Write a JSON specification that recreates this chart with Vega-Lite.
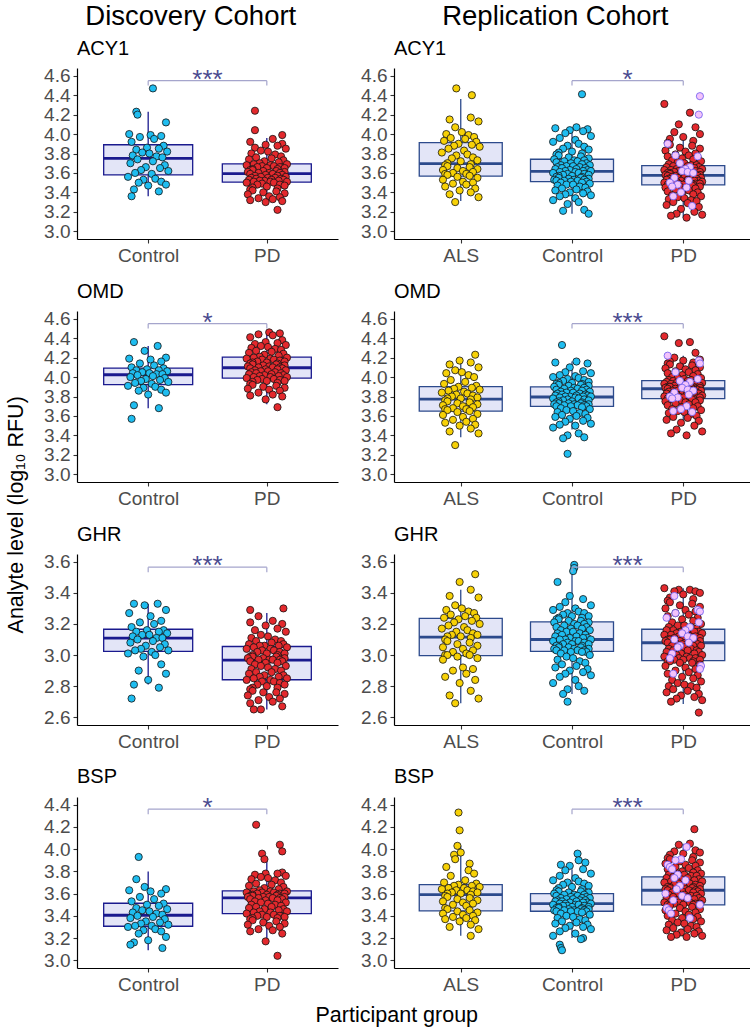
{
"$schema":"https://vega.github.io/schema/vega-lite/v6.json",
"padding":{"left":6,"top":3,"right":3,"bottom":2},
"config":{"font":"Liberation Sans","view":{"stroke":null},
"axis":{"grid":false,"domainColor":"#000000","domainWidth":1.2,"tickColor":"#333333","tickSize":4,"tickWidth":1.1,"labelColor":"#4d4d4d","labelFontSize":19,"labelFont":"Liberation Sans","labelPadding":3,"labelOverlap":false},
"axisX":{"labelAngle":0},
"axisY":{"tickCount":12},
"title":{"font":"Liberation Sans","fontWeight":"normal","color":"#000000"}},
"datasets":{
"box":[
{"k":"D","a":"ACY1","g":"Control","lo":3.36,"q1":3.58,"md":3.75,"q3":3.89,"hi":4.23},
{"k":"D","a":"ACY1","g":"PD","lo":3.29,"q1":3.505,"md":3.593,"q3":3.694,"hi":3.96},
{"k":"R","a":"ACY1","g":"ALS","lo":3.31,"q1":3.567,"md":3.696,"q3":3.911,"hi":4.36},
{"k":"R","a":"ACY1","g":"Control","lo":3.18,"q1":3.511,"md":3.616,"q3":3.741,"hi":4.05},
{"k":"R","a":"ACY1","g":"PD","lo":3.14,"q1":3.477,"md":3.574,"q3":3.675,"hi":3.956},
{"k":"D","a":"OMD","g":"Control","lo":3.68,"q1":3.922,"md":4.024,"q3":4.093,"hi":4.32},
{"k":"D","a":"OMD","g":"PD","lo":3.72,"q1":3.99,"md":4.096,"q3":4.206,"hi":4.46},
{"k":"R","a":"OMD","g":"ALS","lo":3.38,"q1":3.65,"md":3.774,"q3":3.901,"hi":4.15},
{"k":"R","a":"OMD","g":"Control","lo":3.46,"q1":3.698,"md":3.795,"q3":3.9,"hi":4.16},
{"k":"R","a":"OMD","g":"PD","lo":3.5,"q1":3.778,"md":3.88,"q3":3.963,"hi":4.22},
{"k":"D","a":"GHR","g":"Control","lo":2.81,"q1":3.023,"md":3.109,"q3":3.166,"hi":3.33},
{"k":"D","a":"GHR","g":"PD","lo":2.65,"q1":2.841,"md":2.967,"q3":3.055,"hi":3.27},
{"k":"R","a":"GHR","g":"ALS","lo":2.69,"q1":2.996,"md":3.115,"q3":3.236,"hi":3.42},
{"k":"R","a":"GHR","g":"Control","lo":2.75,"q1":3.024,"md":3.1,"q3":3.214,"hi":3.57},
{"k":"R","a":"GHR","g":"PD","lo":2.685,"q1":2.964,"md":3.079,"q3":3.166,"hi":3.43},
{"k":"D","a":"BSP","g":"Control","lo":3.09,"q1":3.306,"md":3.405,"q3":3.513,"hi":3.8},
{"k":"D","a":"BSP","g":"PD","lo":3.17,"q1":3.42,"md":3.561,"q3":3.624,"hi":3.91},
{"k":"R","a":"BSP","g":"ALS","lo":3.22,"q1":3.444,"md":3.591,"q3":3.681,"hi":4.03},
{"k":"R","a":"BSP","g":"Control","lo":3.2,"q1":3.441,"md":3.51,"q3":3.6,"hi":3.82},
{"k":"R","a":"BSP","g":"PD","lo":3.21,"q1":3.498,"md":3.63,"q3":3.75,"hi":4.05}],
"sig":[
{"k":"D","a":"ACY1","g1":"Control","g2":"PD","y":4.55,"y0":4.5,"lab":"***"},
{"k":"R","a":"ACY1","g1":"Control","g2":"PD","y":4.55,"y0":4.5,"lab":"*"},
{"k":"D","a":"OMD","g1":"Control","g2":"PD","y":4.55,"y0":4.5,"lab":"*"},
{"k":"R","a":"OMD","g1":"Control","g2":"PD","y":4.55,"y0":4.5,"lab":"***"},
{"k":"D","a":"GHR","g1":"Control","g2":"PD","y":3.565,"y0":3.533,"lab":"***"},
{"k":"R","a":"GHR","g1":"Control","g2":"PD","y":3.565,"y0":3.533,"lab":"***"},
{"k":"D","a":"BSP","g1":"Control","g2":"PD","y":4.36,"y0":4.315,"lab":"*"},
{"k":"R","a":"BSP","g1":"Control","g2":"PD","y":4.36,"y0":4.315,"lab":"***"}],
"D_ACY1":[
{"g":"Control","v":4.47,"j":4},{"g":"Control","v":4.23,"j":-10},{"g":"Control","v":4.20,"j":-9},{"g":"Control","v":4.12,"j":15},{"g":"Control","v":4.00,"j":-16},{"g":"Control","v":3.99,"j":2},{"g":"Control","v":3.98,"j":11},{"g":"Control","v":3.97,"j":-7},{"g":"Control","v":3.95,"j":5},{"g":"Control","v":3.92,"j":-14},
{"g":"Control","v":3.88,"j":13},{"g":"Control","v":3.86,"j":-1},{"g":"Control","v":3.85,"j":9},{"g":"Control","v":3.84,"j":-10},{"g":"Control","v":3.82,"j":16},{"g":"Control","v":3.81,"j":-5},{"g":"Control","v":3.80,"j":1},{"g":"Control","v":3.78,"j":-13},{"g":"Control","v":3.77,"j":7},{"g":"Control","v":3.76,"j":12},
{"g":"Control","v":3.74,"j":-9},{"g":"Control","v":3.72,"j":4},{"g":"Control","v":3.70,"j":-15},{"g":"Control","v":3.68,"j":14},{"g":"Control","v":3.66,"j":-2},{"g":"Control","v":3.65,"j":10},{"g":"Control","v":3.63,"j":-6},{"g":"Control","v":3.62,"j":17},{"g":"Control","v":3.60,"j":-11},{"g":"Control","v":3.59,"j":3},
{"g":"Control","v":3.56,"j":-17},{"g":"Control","v":3.54,"j":6},{"g":"Control","v":3.53,"j":-4},{"g":"Control","v":3.51,"j":11},{"g":"Control","v":3.50,"j":-8},{"g":"Control","v":3.48,"j":15},{"g":"Control","v":3.47,"j":0},{"g":"Control","v":3.43,"j":-12},{"g":"Control","v":3.41,"j":9},{"g":"Control","v":3.36,"j":-14},
{"g":"PD","v":4.24,"j":-10},{"g":"PD","v":4.04,"j":-10},{"g":"PD","v":3.99,"j":13},{"g":"PD","v":3.95,"j":5},{"g":"PD","v":3.92,"j":-14},{"g":"PD","v":3.90,"j":13},{"g":"PD","v":3.89,"j":-1},{"g":"PD","v":3.88,"j":9},{"g":"PD","v":3.86,"j":-10},{"g":"PD","v":3.85,"j":16},{"g":"PD","v":3.83,"j":-5},{"g":"PD","v":3.82,"j":1},{"g":"PD","v":3.80,"j":-13},{"g":"PD","v":3.79,"j":7},{"g":"PD","v":3.77,"j":12},{"g":"PD","v":3.76,"j":-9},{"g":"PD","v":3.75,"j":4},{"g":"PD","v":3.74,"j":-15},{"g":"PD","v":3.73,"j":14},{"g":"PD","v":3.72,"j":-2},{"g":"PD","v":3.71,"j":10},{"g":"PD","v":3.70,"j":-6},
{"g":"PD","v":3.69,"j":17},{"g":"PD","v":3.69,"j":-11},{"g":"PD","v":3.68,"j":3},{"g":"PD","v":3.68,"j":-17},{"g":"PD","v":3.67,"j":6},{"g":"PD","v":3.67,"j":-4},{"g":"PD","v":3.66,"j":11},{"g":"PD","v":3.66,"j":-8},{"g":"PD","v":3.65,"j":15},{"g":"PD","v":3.65,"j":0},{"g":"PD","v":3.64,"j":-12},{"g":"PD","v":3.64,"j":9},{"g":"PD","v":3.63,"j":-14},{"g":"PD","v":3.63,"j":-12},{"g":"PD","v":3.62,"j":8},{"g":"PD","v":3.62,"j":-3},{"g":"PD","v":3.61,"j":15},{"g":"PD","v":3.61,"j":-16},{"g":"PD","v":3.60,"j":2},{"g":"PD","v":3.60,"j":11},{"g":"PD","v":3.60,"j":-7},{"g":"PD","v":3.59,"j":5},
{"g":"PD","v":3.59,"j":-14},{"g":"PD","v":3.58,"j":13},{"g":"PD","v":3.58,"j":-1},{"g":"PD","v":3.57,"j":9},{"g":"PD","v":3.57,"j":-10},{"g":"PD","v":3.56,"j":16},{"g":"PD","v":3.56,"j":-5},{"g":"PD","v":3.55,"j":1},{"g":"PD","v":3.55,"j":-13},{"g":"PD","v":3.55,"j":7},{"g":"PD","v":3.54,"j":12},{"g":"PD","v":3.54,"j":-9},{"g":"PD","v":3.53,"j":4},{"g":"PD","v":3.53,"j":-15},{"g":"PD","v":3.53,"j":14},{"g":"PD","v":3.52,"j":-2},{"g":"PD","v":3.52,"j":10},{"g":"PD","v":3.52,"j":-6},{"g":"PD","v":3.51,"j":17},{"g":"PD","v":3.51,"j":-11},{"g":"PD","v":3.51,"j":3},{"g":"PD","v":3.50,"j":-17},
{"g":"PD","v":3.50,"j":6},{"g":"PD","v":3.49,"j":-4},{"g":"PD","v":3.48,"j":11},{"g":"PD","v":3.48,"j":-8},{"g":"PD","v":3.47,"j":15},{"g":"PD","v":3.46,"j":0},{"g":"PD","v":3.45,"j":-12},{"g":"PD","v":3.44,"j":9},{"g":"PD","v":3.43,"j":-14},{"g":"PD","v":3.42,"j":-12},{"g":"PD","v":3.41,"j":8},{"g":"PD","v":3.40,"j":-3},{"g":"PD","v":3.39,"j":15},{"g":"PD","v":3.38,"j":-16},{"g":"PD","v":3.36,"j":2},{"g":"PD","v":3.35,"j":11},{"g":"PD","v":3.34,"j":-7},{"g":"PD","v":3.33,"j":5},{"g":"PD","v":3.32,"j":-14},{"g":"PD","v":3.31,"j":13},{"g":"PD","v":3.30,"j":-1},{"g":"PD","v":3.22,"j":9}],
"R_ACY1":[
{"g":"ALS","v":4.47,"j":-4},{"g":"ALS","v":4.40,"j":10},{"g":"ALS","v":4.17,"j":9},{"g":"ALS","v":4.15,"j":-10},{"g":"ALS","v":4.13,"j":16},{"g":"ALS","v":4.07,"j":-5},{"g":"ALS","v":4.02,"j":1},{"g":"ALS","v":4.00,"j":-13},{"g":"ALS","v":3.99,"j":7},{"g":"ALS","v":3.97,"j":12},{"g":"ALS","v":3.96,"j":-9},{"g":"ALS","v":3.95,"j":4},{"g":"ALS","v":3.93,"j":-15},{"g":"ALS","v":3.92,"j":14},
{"g":"ALS","v":3.90,"j":-2},{"g":"ALS","v":3.89,"j":10},{"g":"ALS","v":3.88,"j":-6},{"g":"ALS","v":3.87,"j":17},{"g":"ALS","v":3.85,"j":-11},{"g":"ALS","v":3.83,"j":3},{"g":"ALS","v":3.81,"j":-17},{"g":"ALS","v":3.79,"j":6},{"g":"ALS","v":3.78,"j":-4},{"g":"ALS","v":3.76,"j":11},{"g":"ALS","v":3.75,"j":-8},{"g":"ALS","v":3.73,"j":15},{"g":"ALS","v":3.72,"j":0},{"g":"ALS","v":3.70,"j":-12},
{"g":"ALS","v":3.69,"j":9},{"g":"ALS","v":3.68,"j":-14},{"g":"ALS","v":3.67,"j":-12},{"g":"ALS","v":3.66,"j":8},{"g":"ALS","v":3.65,"j":-3},{"g":"ALS","v":3.64,"j":15},{"g":"ALS","v":3.63,"j":-16},{"g":"ALS","v":3.62,"j":2},{"g":"ALS","v":3.61,"j":11},{"g":"ALS","v":3.60,"j":-7},{"g":"ALS","v":3.59,"j":5},{"g":"ALS","v":3.59,"j":-14},{"g":"ALS","v":3.58,"j":-12},{"g":"ALS","v":3.57,"j":8},
{"g":"ALS","v":3.56,"j":-3},{"g":"ALS","v":3.55,"j":15},{"g":"ALS","v":3.53,"j":-16},{"g":"ALS","v":3.51,"j":2},{"g":"ALS","v":3.50,"j":11},{"g":"ALS","v":3.49,"j":-7},{"g":"ALS","v":3.48,"j":5},{"g":"ALS","v":3.46,"j":-14},{"g":"ALS","v":3.44,"j":13},{"g":"ALS","v":3.42,"j":-1},{"g":"ALS","v":3.40,"j":9},{"g":"ALS","v":3.38,"j":-10},{"g":"ALS","v":3.35,"j":16},{"g":"ALS","v":3.30,"j":-5},
{"g":"Control","v":4.41,"j":9},{"g":"Control","v":4.07,"j":4},{"g":"Control","v":4.06,"j":-15},{"g":"Control","v":4.05,"j":14},{"g":"Control","v":4.04,"j":-2},{"g":"Control","v":4.03,"j":10},{"g":"Control","v":4.01,"j":-6},{"g":"Control","v":3.98,"j":17},{"g":"Control","v":3.96,"j":-11},{"g":"Control","v":3.94,"j":3},{"g":"Control","v":3.92,"j":-17},{"g":"Control","v":3.90,"j":6},{"g":"Control","v":3.88,"j":-4},{"g":"Control","v":3.87,"j":11},{"g":"Control","v":3.85,"j":-8},{"g":"Control","v":3.84,"j":15},{"g":"Control","v":3.82,"j":0},{"g":"Control","v":3.81,"j":-12},{"g":"Control","v":3.80,"j":9},{"g":"Control","v":3.79,"j":-14},{"g":"Control","v":3.78,"j":-12},{"g":"Control","v":3.77,"j":8},{"g":"Control","v":3.76,"j":-3},{"g":"Control","v":3.75,"j":15},
{"g":"Control","v":3.74,"j":-16},{"g":"Control","v":3.73,"j":2},{"g":"Control","v":3.73,"j":11},{"g":"Control","v":3.72,"j":-7},{"g":"Control","v":3.72,"j":5},{"g":"Control","v":3.71,"j":-14},{"g":"Control","v":3.70,"j":13},{"g":"Control","v":3.70,"j":-1},{"g":"Control","v":3.69,"j":9},{"g":"Control","v":3.68,"j":-10},{"g":"Control","v":3.68,"j":16},{"g":"Control","v":3.67,"j":-5},{"g":"Control","v":3.67,"j":1},{"g":"Control","v":3.66,"j":-13},{"g":"Control","v":3.66,"j":7},{"g":"Control","v":3.65,"j":12},{"g":"Control","v":3.65,"j":-9},{"g":"Control","v":3.64,"j":4},{"g":"Control","v":3.64,"j":-15},{"g":"Control","v":3.63,"j":14},{"g":"Control","v":3.63,"j":-2},{"g":"Control","v":3.62,"j":10},{"g":"Control","v":3.62,"j":-6},{"g":"Control","v":3.62,"j":17},
{"g":"Control","v":3.61,"j":-11},{"g":"Control","v":3.61,"j":3},{"g":"Control","v":3.60,"j":-17},{"g":"Control","v":3.60,"j":6},{"g":"Control","v":3.59,"j":-4},{"g":"Control","v":3.59,"j":11},{"g":"Control","v":3.58,"j":-8},{"g":"Control","v":3.58,"j":15},{"g":"Control","v":3.57,"j":0},{"g":"Control","v":3.57,"j":-12},{"g":"Control","v":3.56,"j":9},{"g":"Control","v":3.56,"j":-14},{"g":"Control","v":3.55,"j":-12},{"g":"Control","v":3.55,"j":8},{"g":"Control","v":3.54,"j":-3},{"g":"Control","v":3.54,"j":15},{"g":"Control","v":3.53,"j":-16},{"g":"Control","v":3.53,"j":2},{"g":"Control","v":3.53,"j":11},{"g":"Control","v":3.52,"j":-7},{"g":"Control","v":3.52,"j":5},{"g":"Control","v":3.52,"j":-14},{"g":"Control","v":3.51,"j":13},{"g":"Control","v":3.51,"j":-1},
{"g":"Control","v":3.50,"j":9},{"g":"Control","v":3.50,"j":-10},{"g":"Control","v":3.49,"j":16},{"g":"Control","v":3.48,"j":-5},{"g":"Control","v":3.48,"j":1},{"g":"Control","v":3.47,"j":-13},{"g":"Control","v":3.46,"j":7},{"g":"Control","v":3.45,"j":12},{"g":"Control","v":3.44,"j":-9},{"g":"Control","v":3.43,"j":4},{"g":"Control","v":3.42,"j":-15},{"g":"Control","v":3.41,"j":14},{"g":"Control","v":3.40,"j":-2},{"g":"Control","v":3.39,"j":10},{"g":"Control","v":3.38,"j":-6},{"g":"Control","v":3.37,"j":17},{"g":"Control","v":3.36,"j":-11},{"g":"Control","v":3.34,"j":3},{"g":"Control","v":3.32,"j":-17},{"g":"Control","v":3.30,"j":6},{"g":"Control","v":3.28,"j":-4},{"g":"Control","v":3.22,"j":11},{"g":"Control","v":3.21,"j":-8},{"g":"Control","v":3.18,"j":15},
{"g":"PD","v":4.31,"j":-17},{"g":"PD","v":4.22,"j":6},{"g":"PD","v":4.10,"j":-4},{"g":"PD","v":4.07,"j":11},{"g":"PD","v":4.02,"j":-8},{"g":"PD","v":4.00,"j":15},{"g":"PD","v":3.97,"j":0},{"g":"PD","v":3.95,"j":-12},{"g":"PD","v":3.93,"j":9},{"g":"PD","v":3.91,"j":-14},{"g":"PD","v":3.89,"j":-12},{"g":"PD","v":3.88,"j":8},{"g":"PD","v":3.86,"j":-3},{"g":"PD","v":3.85,"j":15},{"g":"PD","v":3.83,"j":-16},{"g":"PD","v":3.82,"j":2},{"g":"PD","v":3.80,"j":11},{"g":"PD","v":3.79,"j":-7},{"g":"PD","v":3.78,"j":5},{"g":"PD","v":3.77,"j":-14},{"g":"PD","v":3.76,"j":13},{"g":"PD","v":3.75,"j":-1},{"g":"PD","v":3.74,"j":9},{"g":"PD","v":3.73,"j":-10},{"g":"PD","v":3.72,"j":16},{"g":"PD","v":3.71,"j":-5},{"g":"PD","v":3.70,"j":1},{"g":"PD","v":3.69,"j":-13},{"g":"PD","v":3.68,"j":7},{"g":"PD","v":3.68,"j":12},
{"g":"PD","v":3.67,"j":-9},{"g":"PD","v":3.67,"j":4},{"g":"PD","v":3.66,"j":-15},{"g":"PD","v":3.66,"j":14},{"g":"PD","v":3.65,"j":-2},{"g":"PD","v":3.65,"j":10},{"g":"PD","v":3.64,"j":-6},{"g":"PD","v":3.64,"j":17},{"g":"PD","v":3.63,"j":-11},{"g":"PD","v":3.63,"j":3},{"g":"PD","v":3.63,"j":-17},{"g":"PD","v":3.62,"j":6},{"g":"PD","v":3.62,"j":-4},{"g":"PD","v":3.62,"j":11},{"g":"PD","v":3.61,"j":-8},{"g":"PD","v":3.61,"j":15},{"g":"PD","v":3.61,"j":0},{"g":"PD","v":3.60,"j":-12},{"g":"PD","v":3.60,"j":9},{"g":"PD","v":3.60,"j":-14},{"g":"PD","v":3.59,"j":-12},{"g":"PD","v":3.59,"j":8},{"g":"PD","v":3.59,"j":-3},{"g":"PD","v":3.58,"j":15},{"g":"PD","v":3.58,"j":-16},{"g":"PD","v":3.58,"j":2},{"g":"PD","v":3.58,"j":11},{"g":"PD","v":3.57,"j":-7},{"g":"PD","v":3.57,"j":5},{"g":"PD","v":3.57,"j":-14},
{"g":"PD","v":3.57,"j":13},{"g":"PD","v":3.56,"j":-1},{"g":"PD","v":3.56,"j":9},{"g":"PD","v":3.56,"j":-10},{"g":"PD","v":3.55,"j":16},{"g":"PD","v":3.55,"j":-5},{"g":"PD","v":3.55,"j":1},{"g":"PD","v":3.54,"j":-13},{"g":"PD","v":3.54,"j":7},{"g":"PD","v":3.54,"j":12},{"g":"PD","v":3.53,"j":-9},{"g":"PD","v":3.53,"j":4},{"g":"PD","v":3.53,"j":-15},{"g":"PD","v":3.52,"j":14},{"g":"PD","v":3.52,"j":-2},{"g":"PD","v":3.52,"j":10},{"g":"PD","v":3.51,"j":-6},{"g":"PD","v":3.51,"j":17},{"g":"PD","v":3.51,"j":-11},{"g":"PD","v":3.50,"j":3},{"g":"PD","v":3.50,"j":-17},{"g":"PD","v":3.50,"j":6},{"g":"PD","v":3.49,"j":-4},{"g":"PD","v":3.49,"j":11},{"g":"PD","v":3.49,"j":-8},{"g":"PD","v":3.49,"j":15},{"g":"PD","v":3.48,"j":0},{"g":"PD","v":3.48,"j":-12},{"g":"PD","v":3.48,"j":9},{"g":"PD","v":3.48,"j":-14},
{"g":"PD","v":3.47,"j":-12},{"g":"PD","v":3.47,"j":8},{"g":"PD","v":3.46,"j":-3},{"g":"PD","v":3.46,"j":15},{"g":"PD","v":3.45,"j":-16},{"g":"PD","v":3.44,"j":2},{"g":"PD","v":3.44,"j":11},{"g":"PD","v":3.43,"j":-7},{"g":"PD","v":3.42,"j":5},{"g":"PD","v":3.41,"j":-14},{"g":"PD","v":3.40,"j":13},{"g":"PD","v":3.39,"j":-1},{"g":"PD","v":3.38,"j":9},{"g":"PD","v":3.37,"j":-10},{"g":"PD","v":3.36,"j":16},{"g":"PD","v":3.35,"j":-5},{"g":"PD","v":3.34,"j":1},{"g":"PD","v":3.33,"j":-13},{"g":"PD","v":3.32,"j":7},{"g":"PD","v":3.31,"j":12},{"g":"PD","v":3.30,"j":-9},{"g":"PD","v":3.29,"j":4},{"g":"PD","v":3.27,"j":-15},{"g":"PD","v":3.25,"j":14},{"g":"PD","v":3.23,"j":-2},{"g":"PD","v":3.20,"j":10},{"g":"PD","v":3.18,"j":-6},{"g":"PD","v":3.17,"j":17},{"g":"PD","v":3.16,"j":-11},{"g":"PD","v":3.14,"j":3},
{"g":"PD","v":4.39,"j":15,"s":1},{"g":"PD","v":4.20,"j":14,"s":1},{"g":"PD","v":3.90,"j":-14,"s":1},{"g":"PD","v":3.78,"j":-7,"s":1},{"g":"PD","v":3.77,"j":13,"s":1},{"g":"PD","v":3.70,"j":-3,"s":1},{"g":"PD","v":3.66,"j":6,"s":1},{"g":"PD","v":3.64,"j":2,"s":1},{"g":"PD","v":3.62,"j":-1,"s":1},{"g":"PD","v":3.61,"j":4,"s":1},{"g":"PD","v":3.60,"j":9,"s":1},{"g":"PD","v":3.55,"j":-8,"s":1},{"g":"PD","v":3.52,"j":5,"s":1},{"g":"PD","v":3.50,"j":-12,"s":1},{"g":"PD","v":3.48,"j":-5,"s":1},{"g":"PD","v":3.46,"j":-10,"s":1},{"g":"PD","v":3.45,"j":3,"s":1},{"g":"PD","v":3.40,"j":-2,"s":1},{"g":"PD","v":3.36,"j":-9,"s":1},{"g":"PD","v":3.26,"j":8,"s":1}],
"D_OMD":[
{"g":"Control","v":4.36,"j":-12},{"g":"Control","v":4.32,"j":8},{"g":"Control","v":4.27,"j":-3},{"g":"Control","v":4.20,"j":15},{"g":"Control","v":4.19,"j":-16},{"g":"Control","v":4.18,"j":2},{"g":"Control","v":4.16,"j":11},{"g":"Control","v":4.14,"j":-7},{"g":"Control","v":4.12,"j":5},{"g":"Control","v":4.10,"j":-14},
{"g":"Control","v":4.09,"j":13},{"g":"Control","v":4.08,"j":-1},{"g":"Control","v":4.07,"j":9},{"g":"Control","v":4.07,"j":-10},{"g":"Control","v":4.06,"j":16},{"g":"Control","v":4.05,"j":-5},{"g":"Control","v":4.04,"j":1},{"g":"Control","v":4.04,"j":-13},{"g":"Control","v":4.03,"j":7},{"g":"Control","v":4.03,"j":12},
{"g":"Control","v":4.02,"j":-9},{"g":"Control","v":4.01,"j":4},{"g":"Control","v":4.00,"j":-15},{"g":"Control","v":3.99,"j":14},{"g":"Control","v":3.98,"j":-2},{"g":"Control","v":3.97,"j":10},{"g":"Control","v":3.96,"j":-6},{"g":"Control","v":3.95,"j":17},{"g":"Control","v":3.94,"j":-11},{"g":"Control","v":3.93,"j":3},
{"g":"Control","v":3.91,"j":-17},{"g":"Control","v":3.90,"j":6},{"g":"Control","v":3.89,"j":-4},{"g":"Control","v":3.87,"j":11},{"g":"Control","v":3.86,"j":-8},{"g":"Control","v":3.84,"j":15},{"g":"Control","v":3.82,"j":0},{"g":"Control","v":3.71,"j":-12},{"g":"Control","v":3.68,"j":9},{"g":"Control","v":3.57,"j":-14},
{"g":"PD","v":4.46,"j":2},{"g":"PD","v":4.45,"j":11},{"g":"PD","v":4.44,"j":-7},{"g":"PD","v":4.43,"j":5},{"g":"PD","v":4.41,"j":-14},{"g":"PD","v":4.38,"j":13},{"g":"PD","v":4.36,"j":-1},{"g":"PD","v":4.35,"j":9},{"g":"PD","v":4.34,"j":-10},{"g":"PD","v":4.33,"j":16},{"g":"PD","v":4.32,"j":-5},{"g":"PD","v":4.31,"j":1},{"g":"PD","v":4.30,"j":-13},{"g":"PD","v":4.29,"j":7},{"g":"PD","v":4.28,"j":12},{"g":"PD","v":4.27,"j":-9},{"g":"PD","v":4.26,"j":4},{"g":"PD","v":4.25,"j":-15},{"g":"PD","v":4.24,"j":14},{"g":"PD","v":4.23,"j":-2},{"g":"PD","v":4.22,"j":10},{"g":"PD","v":4.21,"j":-6},
{"g":"PD","v":4.20,"j":17},{"g":"PD","v":4.20,"j":-11},{"g":"PD","v":4.19,"j":3},{"g":"PD","v":4.19,"j":-17},{"g":"PD","v":4.18,"j":6},{"g":"PD","v":4.18,"j":-4},{"g":"PD","v":4.17,"j":11},{"g":"PD","v":4.16,"j":-8},{"g":"PD","v":4.16,"j":15},{"g":"PD","v":4.15,"j":0},{"g":"PD","v":4.15,"j":-12},{"g":"PD","v":4.14,"j":9},{"g":"PD","v":4.14,"j":-14},{"g":"PD","v":4.13,"j":-12},{"g":"PD","v":4.13,"j":8},{"g":"PD","v":4.12,"j":-3},{"g":"PD","v":4.12,"j":15},{"g":"PD","v":4.11,"j":-16},{"g":"PD","v":4.11,"j":2},{"g":"PD","v":4.10,"j":11},{"g":"PD","v":4.10,"j":-7},{"g":"PD","v":4.10,"j":5},
{"g":"PD","v":4.09,"j":-14},{"g":"PD","v":4.09,"j":13},{"g":"PD","v":4.08,"j":-1},{"g":"PD","v":4.08,"j":9},{"g":"PD","v":4.07,"j":-10},{"g":"PD","v":4.07,"j":16},{"g":"PD","v":4.06,"j":-5},{"g":"PD","v":4.06,"j":1},{"g":"PD","v":4.05,"j":-13},{"g":"PD","v":4.05,"j":7},{"g":"PD","v":4.04,"j":12},{"g":"PD","v":4.04,"j":-9},{"g":"PD","v":4.03,"j":4},{"g":"PD","v":4.03,"j":-15},{"g":"PD","v":4.02,"j":14},{"g":"PD","v":4.02,"j":-2},{"g":"PD","v":4.01,"j":10},{"g":"PD","v":4.01,"j":-6},{"g":"PD","v":4.00,"j":17},{"g":"PD","v":4.00,"j":-11},{"g":"PD","v":4.00,"j":3},{"g":"PD","v":3.99,"j":-17},
{"g":"PD","v":3.98,"j":6},{"g":"PD","v":3.98,"j":-4},{"g":"PD","v":3.97,"j":11},{"g":"PD","v":3.97,"j":-8},{"g":"PD","v":3.96,"j":15},{"g":"PD","v":3.96,"j":0},{"g":"PD","v":3.95,"j":-12},{"g":"PD","v":3.94,"j":9},{"g":"PD","v":3.93,"j":-14},{"g":"PD","v":3.92,"j":-12},{"g":"PD","v":3.91,"j":8},{"g":"PD","v":3.90,"j":-3},{"g":"PD","v":3.89,"j":15},{"g":"PD","v":3.88,"j":-16},{"g":"PD","v":3.87,"j":2},{"g":"PD","v":3.86,"j":11},{"g":"PD","v":3.84,"j":-7},{"g":"PD","v":3.82,"j":5},{"g":"PD","v":3.81,"j":-14},{"g":"PD","v":3.80,"j":13},{"g":"PD","v":3.77,"j":-1},{"g":"PD","v":3.69,"j":9}],
"R_OMD":[
{"g":"ALS","v":4.23,"j":13},{"g":"ALS","v":4.17,"j":-1},{"g":"ALS","v":4.15,"j":9},{"g":"ALS","v":4.13,"j":-10},{"g":"ALS","v":4.10,"j":16},{"g":"ALS","v":4.07,"j":-5},{"g":"ALS","v":4.05,"j":1},{"g":"ALS","v":4.04,"j":-13},{"g":"ALS","v":4.02,"j":7},{"g":"ALS","v":4.00,"j":12},{"g":"ALS","v":3.97,"j":-9},{"g":"ALS","v":3.95,"j":4},{"g":"ALS","v":3.93,"j":-15},{"g":"ALS","v":3.91,"j":14},
{"g":"ALS","v":3.90,"j":-2},{"g":"ALS","v":3.89,"j":10},{"g":"ALS","v":3.88,"j":-6},{"g":"ALS","v":3.87,"j":17},{"g":"ALS","v":3.86,"j":-11},{"g":"ALS","v":3.85,"j":3},{"g":"ALS","v":3.84,"j":-17},{"g":"ALS","v":3.83,"j":6},{"g":"ALS","v":3.82,"j":-4},{"g":"ALS","v":3.81,"j":11},{"g":"ALS","v":3.80,"j":-8},{"g":"ALS","v":3.79,"j":15},{"g":"ALS","v":3.78,"j":0},{"g":"ALS","v":3.78,"j":-12},
{"g":"ALS","v":3.77,"j":9},{"g":"ALS","v":3.76,"j":-14},{"g":"ALS","v":3.75,"j":-12},{"g":"ALS","v":3.74,"j":8},{"g":"ALS","v":3.73,"j":-3},{"g":"ALS","v":3.72,"j":15},{"g":"ALS","v":3.71,"j":-16},{"g":"ALS","v":3.70,"j":2},{"g":"ALS","v":3.69,"j":11},{"g":"ALS","v":3.68,"j":-7},{"g":"ALS","v":3.67,"j":5},{"g":"ALS","v":3.67,"j":-14},{"g":"ALS","v":3.66,"j":-12},{"g":"ALS","v":3.65,"j":8},
{"g":"ALS","v":3.64,"j":-3},{"g":"ALS","v":3.62,"j":15},{"g":"ALS","v":3.61,"j":-16},{"g":"ALS","v":3.59,"j":2},{"g":"ALS","v":3.57,"j":11},{"g":"ALS","v":3.56,"j":-7},{"g":"ALS","v":3.54,"j":5},{"g":"ALS","v":3.53,"j":-14},{"g":"ALS","v":3.51,"j":13},{"g":"ALS","v":3.50,"j":-1},{"g":"ALS","v":3.47,"j":9},{"g":"ALS","v":3.44,"j":-10},{"g":"ALS","v":3.42,"j":16},{"g":"ALS","v":3.30,"j":-5},
{"g":"Control","v":4.33,"j":-9},{"g":"Control","v":4.16,"j":4},{"g":"Control","v":4.15,"j":-15},{"g":"Control","v":4.14,"j":14},{"g":"Control","v":4.10,"j":-2},{"g":"Control","v":4.06,"j":10},{"g":"Control","v":4.05,"j":-6},{"g":"Control","v":4.04,"j":17},{"g":"Control","v":4.02,"j":-11},{"g":"Control","v":4.01,"j":3},{"g":"Control","v":4.00,"j":-17},{"g":"Control","v":3.99,"j":6},{"g":"Control","v":3.98,"j":-4},{"g":"Control","v":3.97,"j":11},{"g":"Control","v":3.96,"j":-8},{"g":"Control","v":3.95,"j":15},{"g":"Control","v":3.94,"j":0},{"g":"Control","v":3.94,"j":-12},{"g":"Control","v":3.93,"j":9},{"g":"Control","v":3.93,"j":-14},{"g":"Control","v":3.92,"j":-12},{"g":"Control","v":3.92,"j":8},{"g":"Control","v":3.91,"j":-3},{"g":"Control","v":3.91,"j":15},
{"g":"Control","v":3.90,"j":-16},{"g":"Control","v":3.89,"j":2},{"g":"Control","v":3.89,"j":11},{"g":"Control","v":3.88,"j":-7},{"g":"Control","v":3.88,"j":5},{"g":"Control","v":3.87,"j":-14},{"g":"Control","v":3.87,"j":13},{"g":"Control","v":3.86,"j":-1},{"g":"Control","v":3.86,"j":9},{"g":"Control","v":3.85,"j":-10},{"g":"Control","v":3.85,"j":16},{"g":"Control","v":3.84,"j":-5},{"g":"Control","v":3.84,"j":1},{"g":"Control","v":3.83,"j":-13},{"g":"Control","v":3.83,"j":7},{"g":"Control","v":3.82,"j":12},{"g":"Control","v":3.82,"j":-9},{"g":"Control","v":3.81,"j":4},{"g":"Control","v":3.81,"j":-15},{"g":"Control","v":3.81,"j":14},{"g":"Control","v":3.80,"j":-2},{"g":"Control","v":3.80,"j":10},{"g":"Control","v":3.80,"j":-6},{"g":"Control","v":3.80,"j":17},
{"g":"Control","v":3.79,"j":-11},{"g":"Control","v":3.79,"j":3},{"g":"Control","v":3.78,"j":-17},{"g":"Control","v":3.78,"j":6},{"g":"Control","v":3.77,"j":-4},{"g":"Control","v":3.77,"j":11},{"g":"Control","v":3.76,"j":-8},{"g":"Control","v":3.76,"j":15},{"g":"Control","v":3.75,"j":0},{"g":"Control","v":3.75,"j":-12},{"g":"Control","v":3.74,"j":9},{"g":"Control","v":3.74,"j":-14},{"g":"Control","v":3.73,"j":-12},{"g":"Control","v":3.73,"j":8},{"g":"Control","v":3.73,"j":-3},{"g":"Control","v":3.72,"j":15},{"g":"Control","v":3.72,"j":-16},{"g":"Control","v":3.72,"j":2},{"g":"Control","v":3.71,"j":11},{"g":"Control","v":3.71,"j":-7},{"g":"Control","v":3.71,"j":5},{"g":"Control","v":3.70,"j":-14},{"g":"Control","v":3.70,"j":13},{"g":"Control","v":3.70,"j":-1},
{"g":"Control","v":3.69,"j":9},{"g":"Control","v":3.68,"j":-10},{"g":"Control","v":3.67,"j":16},{"g":"Control","v":3.66,"j":-5},{"g":"Control","v":3.65,"j":1},{"g":"Control","v":3.64,"j":-13},{"g":"Control","v":3.63,"j":7},{"g":"Control","v":3.62,"j":12},{"g":"Control","v":3.61,"j":-9},{"g":"Control","v":3.60,"j":4},{"g":"Control","v":3.59,"j":-15},{"g":"Control","v":3.58,"j":14},{"g":"Control","v":3.57,"j":-2},{"g":"Control","v":3.55,"j":10},{"g":"Control","v":3.54,"j":-6},{"g":"Control","v":3.52,"j":17},{"g":"Control","v":3.51,"j":-11},{"g":"Control","v":3.50,"j":3},{"g":"Control","v":3.48,"j":-17},{"g":"Control","v":3.42,"j":6},{"g":"Control","v":3.40,"j":-4},{"g":"Control","v":3.38,"j":11},{"g":"Control","v":3.37,"j":-8},{"g":"Control","v":3.21,"j":-4},
{"g":"PD","v":4.42,"j":-17},{"g":"PD","v":4.36,"j":6},{"g":"PD","v":4.35,"j":-4},{"g":"PD","v":4.25,"j":11},{"g":"PD","v":4.20,"j":-8},{"g":"PD","v":4.18,"j":15},{"g":"PD","v":4.17,"j":0},{"g":"PD","v":4.16,"j":-12},{"g":"PD","v":4.15,"j":9},{"g":"PD","v":4.14,"j":-14},{"g":"PD","v":4.13,"j":-12},{"g":"PD","v":4.12,"j":8},{"g":"PD","v":4.11,"j":-3},{"g":"PD","v":4.10,"j":15},{"g":"PD","v":4.09,"j":-16},{"g":"PD","v":4.08,"j":2},{"g":"PD","v":4.07,"j":11},{"g":"PD","v":4.06,"j":-7},{"g":"PD","v":4.05,"j":5},{"g":"PD","v":4.04,"j":-14},{"g":"PD","v":4.03,"j":13},{"g":"PD","v":4.02,"j":-1},{"g":"PD","v":4.01,"j":9},{"g":"PD","v":4.00,"j":-10},{"g":"PD","v":3.99,"j":16},{"g":"PD","v":3.99,"j":-5},{"g":"PD","v":3.98,"j":1},{"g":"PD","v":3.97,"j":-13},{"g":"PD","v":3.97,"j":7},{"g":"PD","v":3.96,"j":12},
{"g":"PD","v":3.96,"j":-9},{"g":"PD","v":3.96,"j":4},{"g":"PD","v":3.95,"j":-15},{"g":"PD","v":3.95,"j":14},{"g":"PD","v":3.95,"j":-2},{"g":"PD","v":3.94,"j":10},{"g":"PD","v":3.94,"j":-6},{"g":"PD","v":3.94,"j":17},{"g":"PD","v":3.93,"j":-11},{"g":"PD","v":3.93,"j":3},{"g":"PD","v":3.93,"j":-17},{"g":"PD","v":3.92,"j":6},{"g":"PD","v":3.92,"j":-4},{"g":"PD","v":3.92,"j":11},{"g":"PD","v":3.91,"j":-8},{"g":"PD","v":3.91,"j":15},{"g":"PD","v":3.91,"j":0},{"g":"PD","v":3.90,"j":-12},{"g":"PD","v":3.90,"j":9},{"g":"PD","v":3.90,"j":-14},{"g":"PD","v":3.90,"j":-12},{"g":"PD","v":3.89,"j":8},{"g":"PD","v":3.89,"j":-3},{"g":"PD","v":3.89,"j":15},{"g":"PD","v":3.89,"j":-16},{"g":"PD","v":3.88,"j":2},{"g":"PD","v":3.88,"j":11},{"g":"PD","v":3.88,"j":-7},{"g":"PD","v":3.88,"j":5},{"g":"PD","v":3.88,"j":-14},
{"g":"PD","v":3.87,"j":13},{"g":"PD","v":3.87,"j":-1},{"g":"PD","v":3.87,"j":9},{"g":"PD","v":3.86,"j":-10},{"g":"PD","v":3.86,"j":16},{"g":"PD","v":3.86,"j":-5},{"g":"PD","v":3.85,"j":1},{"g":"PD","v":3.85,"j":-13},{"g":"PD","v":3.85,"j":7},{"g":"PD","v":3.84,"j":12},{"g":"PD","v":3.84,"j":-9},{"g":"PD","v":3.83,"j":4},{"g":"PD","v":3.83,"j":-15},{"g":"PD","v":3.83,"j":14},{"g":"PD","v":3.82,"j":-2},{"g":"PD","v":3.82,"j":10},{"g":"PD","v":3.82,"j":-6},{"g":"PD","v":3.81,"j":17},{"g":"PD","v":3.81,"j":-11},{"g":"PD","v":3.81,"j":3},{"g":"PD","v":3.80,"j":-17},{"g":"PD","v":3.80,"j":6},{"g":"PD","v":3.80,"j":-4},{"g":"PD","v":3.79,"j":11},{"g":"PD","v":3.79,"j":-8},{"g":"PD","v":3.79,"j":15},{"g":"PD","v":3.79,"j":0},{"g":"PD","v":3.78,"j":-12},{"g":"PD","v":3.78,"j":9},{"g":"PD","v":3.78,"j":-14},
{"g":"PD","v":3.77,"j":-12},{"g":"PD","v":3.77,"j":8},{"g":"PD","v":3.76,"j":-3},{"g":"PD","v":3.76,"j":15},{"g":"PD","v":3.75,"j":-16},{"g":"PD","v":3.74,"j":2},{"g":"PD","v":3.74,"j":11},{"g":"PD","v":3.73,"j":-7},{"g":"PD","v":3.72,"j":5},{"g":"PD","v":3.71,"j":-14},{"g":"PD","v":3.70,"j":13},{"g":"PD","v":3.69,"j":-1},{"g":"PD","v":3.68,"j":9},{"g":"PD","v":3.67,"j":-10},{"g":"PD","v":3.66,"j":16},{"g":"PD","v":3.65,"j":-5},{"g":"PD","v":3.64,"j":1},{"g":"PD","v":3.63,"j":-13},{"g":"PD","v":3.62,"j":7},{"g":"PD","v":3.60,"j":12},{"g":"PD","v":3.59,"j":-9},{"g":"PD","v":3.58,"j":4},{"g":"PD","v":3.56,"j":-15},{"g":"PD","v":3.55,"j":14},{"g":"PD","v":3.53,"j":-2},{"g":"PD","v":3.50,"j":10},{"g":"PD","v":3.46,"j":-6},{"g":"PD","v":3.44,"j":17},{"g":"PD","v":3.42,"j":-11},{"g":"PD","v":3.40,"j":3},
{"g":"PD","v":4.22,"j":-14,"s":1},{"g":"PD","v":4.17,"j":14,"s":1},{"g":"PD","v":4.14,"j":15,"s":1},{"g":"PD","v":4.05,"j":-7,"s":1},{"g":"PD","v":3.98,"j":13,"s":1},{"g":"PD","v":3.96,"j":-3,"s":1},{"g":"PD","v":3.95,"j":6,"s":1},{"g":"PD","v":3.92,"j":2,"s":1},{"g":"PD","v":3.89,"j":-1,"s":1},{"g":"PD","v":3.87,"j":4,"s":1},{"g":"PD","v":3.86,"j":9,"s":1},{"g":"PD","v":3.84,"j":-8,"s":1},{"g":"PD","v":3.82,"j":5,"s":1},{"g":"PD","v":3.80,"j":-12,"s":1},{"g":"PD","v":3.79,"j":-5,"s":1},{"g":"PD","v":3.78,"j":-10,"s":1},{"g":"PD","v":3.70,"j":3,"s":1},{"g":"PD","v":3.67,"j":-2,"s":1},{"g":"PD","v":3.65,"j":-9,"s":1},{"g":"PD","v":3.64,"j":8,"s":1}],
"D_GHR":[
{"g":"Control","v":3.33,"j":-12},{"g":"Control","v":3.33,"j":8},{"g":"Control","v":3.32,"j":-3},{"g":"Control","v":3.29,"j":15},{"g":"Control","v":3.27,"j":-16},{"g":"Control","v":3.25,"j":2},{"g":"Control","v":3.22,"j":11},{"g":"Control","v":3.21,"j":-7},{"g":"Control","v":3.20,"j":5},{"g":"Control","v":3.18,"j":-14},
{"g":"Control","v":3.16,"j":13},{"g":"Control","v":3.16,"j":-1},{"g":"Control","v":3.15,"j":9},{"g":"Control","v":3.15,"j":-10},{"g":"Control","v":3.14,"j":16},{"g":"Control","v":3.13,"j":-5},{"g":"Control","v":3.13,"j":1},{"g":"Control","v":3.12,"j":-13},{"g":"Control","v":3.11,"j":7},{"g":"Control","v":3.11,"j":12},
{"g":"Control","v":3.10,"j":-9},{"g":"Control","v":3.09,"j":4},{"g":"Control","v":3.08,"j":-15},{"g":"Control","v":3.07,"j":14},{"g":"Control","v":3.06,"j":-2},{"g":"Control","v":3.05,"j":10},{"g":"Control","v":3.04,"j":-6},{"g":"Control","v":3.03,"j":17},{"g":"Control","v":3.03,"j":-11},{"g":"Control","v":3.02,"j":3},
{"g":"Control","v":3.01,"j":-17},{"g":"Control","v":3.00,"j":6},{"g":"Control","v":2.99,"j":-4},{"g":"Control","v":2.94,"j":11},{"g":"Control","v":2.90,"j":-8},{"g":"Control","v":2.88,"j":15},{"g":"Control","v":2.84,"j":0},{"g":"Control","v":2.81,"j":-12},{"g":"Control","v":2.79,"j":9},{"g":"Control","v":2.72,"j":-14},
{"g":"PD","v":3.30,"j":14},{"g":"PD","v":3.29,"j":-14},{"g":"PD","v":3.25,"j":-7},{"g":"PD","v":3.22,"j":5},{"g":"PD","v":3.21,"j":-14},{"g":"PD","v":3.20,"j":13},{"g":"PD","v":3.19,"j":-1},{"g":"PD","v":3.17,"j":9},{"g":"PD","v":3.16,"j":-10},{"g":"PD","v":3.15,"j":16},{"g":"PD","v":3.13,"j":-5},{"g":"PD","v":3.12,"j":1},{"g":"PD","v":3.11,"j":-13},{"g":"PD","v":3.10,"j":7},{"g":"PD","v":3.09,"j":12},{"g":"PD","v":3.09,"j":-9},{"g":"PD","v":3.08,"j":4},{"g":"PD","v":3.07,"j":-15},{"g":"PD","v":3.07,"j":14},{"g":"PD","v":3.06,"j":-2},{"g":"PD","v":3.06,"j":10},{"g":"PD","v":3.06,"j":-6},
{"g":"PD","v":3.05,"j":17},{"g":"PD","v":3.05,"j":-11},{"g":"PD","v":3.04,"j":3},{"g":"PD","v":3.04,"j":-17},{"g":"PD","v":3.03,"j":6},{"g":"PD","v":3.03,"j":-4},{"g":"PD","v":3.02,"j":11},{"g":"PD","v":3.02,"j":-8},{"g":"PD","v":3.01,"j":15},{"g":"PD","v":3.01,"j":0},{"g":"PD","v":3.00,"j":-12},{"g":"PD","v":3.00,"j":9},{"g":"PD","v":2.99,"j":-14},{"g":"PD","v":2.99,"j":-12},{"g":"PD","v":2.99,"j":8},{"g":"PD","v":2.98,"j":-3},{"g":"PD","v":2.98,"j":15},{"g":"PD","v":2.98,"j":-16},{"g":"PD","v":2.97,"j":2},{"g":"PD","v":2.97,"j":11},{"g":"PD","v":2.97,"j":-7},{"g":"PD","v":2.97,"j":5},
{"g":"PD","v":2.96,"j":-14},{"g":"PD","v":2.96,"j":13},{"g":"PD","v":2.95,"j":-1},{"g":"PD","v":2.95,"j":9},{"g":"PD","v":2.94,"j":-10},{"g":"PD","v":2.93,"j":16},{"g":"PD","v":2.93,"j":-5},{"g":"PD","v":2.92,"j":1},{"g":"PD","v":2.91,"j":-13},{"g":"PD","v":2.91,"j":7},{"g":"PD","v":2.90,"j":12},{"g":"PD","v":2.89,"j":-9},{"g":"PD","v":2.89,"j":4},{"g":"PD","v":2.88,"j":-15},{"g":"PD","v":2.87,"j":14},{"g":"PD","v":2.87,"j":-2},{"g":"PD","v":2.86,"j":10},{"g":"PD","v":2.86,"j":-6},{"g":"PD","v":2.85,"j":17},{"g":"PD","v":2.85,"j":-11},{"g":"PD","v":2.84,"j":3},{"g":"PD","v":2.84,"j":-17},
{"g":"PD","v":2.83,"j":6},{"g":"PD","v":2.83,"j":-4},{"g":"PD","v":2.82,"j":11},{"g":"PD","v":2.81,"j":-8},{"g":"PD","v":2.81,"j":15},{"g":"PD","v":2.80,"j":0},{"g":"PD","v":2.79,"j":-12},{"g":"PD","v":2.79,"j":9},{"g":"PD","v":2.78,"j":-14},{"g":"PD","v":2.77,"j":-12},{"g":"PD","v":2.76,"j":8},{"g":"PD","v":2.76,"j":-3},{"g":"PD","v":2.75,"j":15},{"g":"PD","v":2.74,"j":-16},{"g":"PD","v":2.73,"j":2},{"g":"PD","v":2.72,"j":11},{"g":"PD","v":2.71,"j":-7},{"g":"PD","v":2.70,"j":5},{"g":"PD","v":2.69,"j":-14},{"g":"PD","v":2.67,"j":13},{"g":"PD","v":2.65,"j":-11},{"g":"PD","v":2.65,"j":-5}],
"R_GHR":[
{"g":"ALS","v":3.52,"j":13},{"g":"ALS","v":3.47,"j":-1},{"g":"ALS","v":3.42,"j":9},{"g":"ALS","v":3.38,"j":-10},{"g":"ALS","v":3.37,"j":16},{"g":"ALS","v":3.32,"j":-5},{"g":"ALS","v":3.30,"j":1},{"g":"ALS","v":3.29,"j":-13},{"g":"ALS","v":3.28,"j":7},{"g":"ALS","v":3.27,"j":12},{"g":"ALS","v":3.26,"j":-9},{"g":"ALS","v":3.25,"j":4},{"g":"ALS","v":3.24,"j":-15},{"g":"ALS","v":3.24,"j":14},
{"g":"ALS","v":3.23,"j":-2},{"g":"ALS","v":3.22,"j":10},{"g":"ALS","v":3.21,"j":-6},{"g":"ALS","v":3.20,"j":17},{"g":"ALS","v":3.19,"j":-11},{"g":"ALS","v":3.18,"j":3},{"g":"ALS","v":3.17,"j":-17},{"g":"ALS","v":3.16,"j":6},{"g":"ALS","v":3.15,"j":-4},{"g":"ALS","v":3.14,"j":11},{"g":"ALS","v":3.13,"j":-8},{"g":"ALS","v":3.13,"j":15},{"g":"ALS","v":3.12,"j":0},{"g":"ALS","v":3.12,"j":-12},
{"g":"ALS","v":3.11,"j":9},{"g":"ALS","v":3.10,"j":-14},{"g":"ALS","v":3.09,"j":-12},{"g":"ALS","v":3.08,"j":8},{"g":"ALS","v":3.07,"j":-3},{"g":"ALS","v":3.06,"j":15},{"g":"ALS","v":3.05,"j":-16},{"g":"ALS","v":3.04,"j":2},{"g":"ALS","v":3.03,"j":11},{"g":"ALS","v":3.02,"j":-7},{"g":"ALS","v":3.01,"j":5},{"g":"ALS","v":3.00,"j":-14},{"g":"ALS","v":3.00,"j":-12},{"g":"ALS","v":3.00,"j":8},
{"g":"ALS","v":2.99,"j":-3},{"g":"ALS","v":2.98,"j":15},{"g":"ALS","v":2.97,"j":-16},{"g":"ALS","v":2.92,"j":2},{"g":"ALS","v":2.91,"j":11},{"g":"ALS","v":2.90,"j":-7},{"g":"ALS","v":2.88,"j":5},{"g":"ALS","v":2.86,"j":-14},{"g":"ALS","v":2.84,"j":13},{"g":"ALS","v":2.82,"j":-1},{"g":"ALS","v":2.77,"j":9},{"g":"ALS","v":2.74,"j":-10},{"g":"ALS","v":2.72,"j":16},{"g":"ALS","v":2.69,"j":-5},
{"g":"Control","v":3.58,"j":2},{"g":"Control","v":3.56,"j":2},{"g":"Control","v":3.54,"j":1},{"g":"Control","v":3.47,"j":-13},{"g":"Control","v":3.38,"j":-2},{"g":"Control","v":3.36,"j":10},{"g":"Control","v":3.34,"j":-6},{"g":"Control","v":3.32,"j":17},{"g":"Control","v":3.31,"j":-11},{"g":"Control","v":3.30,"j":3},{"g":"Control","v":3.29,"j":-17},{"g":"Control","v":3.28,"j":6},{"g":"Control","v":3.27,"j":-4},{"g":"Control","v":3.27,"j":11},{"g":"Control","v":3.26,"j":-8},{"g":"Control","v":3.25,"j":15},{"g":"Control","v":3.25,"j":0},{"g":"Control","v":3.24,"j":-12},{"g":"Control","v":3.24,"j":9},{"g":"Control","v":3.23,"j":-14},{"g":"Control","v":3.23,"j":-12},{"g":"Control","v":3.22,"j":8},{"g":"Control","v":3.22,"j":-3},{"g":"Control","v":3.21,"j":15},
{"g":"Control","v":3.21,"j":-16},{"g":"Control","v":3.20,"j":2},{"g":"Control","v":3.20,"j":11},{"g":"Control","v":3.19,"j":-7},{"g":"Control","v":3.19,"j":5},{"g":"Control","v":3.18,"j":-14},{"g":"Control","v":3.18,"j":13},{"g":"Control","v":3.17,"j":-1},{"g":"Control","v":3.17,"j":9},{"g":"Control","v":3.16,"j":-10},{"g":"Control","v":3.16,"j":16},{"g":"Control","v":3.15,"j":-5},{"g":"Control","v":3.15,"j":1},{"g":"Control","v":3.14,"j":-13},{"g":"Control","v":3.14,"j":7},{"g":"Control","v":3.13,"j":12},{"g":"Control","v":3.13,"j":-9},{"g":"Control","v":3.12,"j":4},{"g":"Control","v":3.12,"j":-15},{"g":"Control","v":3.11,"j":14},{"g":"Control","v":3.11,"j":-2},{"g":"Control","v":3.11,"j":10},{"g":"Control","v":3.10,"j":-6},{"g":"Control","v":3.10,"j":17},
{"g":"Control","v":3.10,"j":-11},{"g":"Control","v":3.09,"j":3},{"g":"Control","v":3.09,"j":-17},{"g":"Control","v":3.09,"j":6},{"g":"Control","v":3.08,"j":-4},{"g":"Control","v":3.08,"j":11},{"g":"Control","v":3.07,"j":-8},{"g":"Control","v":3.07,"j":15},{"g":"Control","v":3.07,"j":0},{"g":"Control","v":3.06,"j":-12},{"g":"Control","v":3.06,"j":9},{"g":"Control","v":3.06,"j":-14},{"g":"Control","v":3.05,"j":-12},{"g":"Control","v":3.05,"j":8},{"g":"Control","v":3.05,"j":-3},{"g":"Control","v":3.04,"j":15},{"g":"Control","v":3.04,"j":-16},{"g":"Control","v":3.04,"j":2},{"g":"Control","v":3.03,"j":11},{"g":"Control","v":3.03,"j":-7},{"g":"Control","v":3.03,"j":5},{"g":"Control","v":3.03,"j":-14},{"g":"Control","v":3.02,"j":13},{"g":"Control","v":3.02,"j":-1},
{"g":"Control","v":3.02,"j":9},{"g":"Control","v":3.01,"j":-10},{"g":"Control","v":3.00,"j":16},{"g":"Control","v":2.99,"j":-5},{"g":"Control","v":2.98,"j":1},{"g":"Control","v":2.97,"j":-13},{"g":"Control","v":2.96,"j":7},{"g":"Control","v":2.95,"j":12},{"g":"Control","v":2.94,"j":-9},{"g":"Control","v":2.93,"j":4},{"g":"Control","v":2.92,"j":-15},{"g":"Control","v":2.91,"j":14},{"g":"Control","v":2.90,"j":-2},{"g":"Control","v":2.89,"j":10},{"g":"Control","v":2.88,"j":-6},{"g":"Control","v":2.87,"j":17},{"g":"Control","v":2.86,"j":-11},{"g":"Control","v":2.84,"j":3},{"g":"Control","v":2.82,"j":-17},{"g":"Control","v":2.80,"j":6},{"g":"Control","v":2.78,"j":-4},{"g":"Control","v":2.77,"j":11},{"g":"Control","v":2.75,"j":-8},{"g":"Control","v":2.70,"j":-4},
{"g":"PD","v":3.43,"j":-17},{"g":"PD","v":3.42,"j":6},{"g":"PD","v":3.42,"j":-4},{"g":"PD","v":3.41,"j":11},{"g":"PD","v":3.41,"j":-8},{"g":"PD","v":3.40,"j":15},{"g":"PD","v":3.39,"j":0},{"g":"PD","v":3.37,"j":-12},{"g":"PD","v":3.36,"j":9},{"g":"PD","v":3.35,"j":-14},{"g":"PD","v":3.34,"j":-12},{"g":"PD","v":3.33,"j":8},{"g":"PD","v":3.32,"j":-3},{"g":"PD","v":3.31,"j":15},{"g":"PD","v":3.30,"j":-16},{"g":"PD","v":3.29,"j":2},{"g":"PD","v":3.28,"j":11},{"g":"PD","v":3.27,"j":-7},{"g":"PD","v":3.26,"j":5},{"g":"PD","v":3.25,"j":-14},{"g":"PD","v":3.24,"j":13},{"g":"PD","v":3.23,"j":-1},{"g":"PD","v":3.22,"j":9},{"g":"PD","v":3.21,"j":-10},{"g":"PD","v":3.20,"j":16},{"g":"PD","v":3.19,"j":-5},{"g":"PD","v":3.19,"j":1},{"g":"PD","v":3.18,"j":-13},{"g":"PD","v":3.18,"j":7},{"g":"PD","v":3.17,"j":12},
{"g":"PD","v":3.16,"j":-9},{"g":"PD","v":3.16,"j":4},{"g":"PD","v":3.16,"j":-15},{"g":"PD","v":3.15,"j":14},{"g":"PD","v":3.15,"j":-2},{"g":"PD","v":3.15,"j":10},{"g":"PD","v":3.14,"j":-6},{"g":"PD","v":3.14,"j":17},{"g":"PD","v":3.13,"j":-11},{"g":"PD","v":3.13,"j":3},{"g":"PD","v":3.13,"j":-17},{"g":"PD","v":3.12,"j":6},{"g":"PD","v":3.12,"j":-4},{"g":"PD","v":3.12,"j":11},{"g":"PD","v":3.11,"j":-8},{"g":"PD","v":3.11,"j":15},{"g":"PD","v":3.11,"j":0},{"g":"PD","v":3.10,"j":-12},{"g":"PD","v":3.10,"j":9},{"g":"PD","v":3.10,"j":-14},{"g":"PD","v":3.10,"j":-12},{"g":"PD","v":3.09,"j":8},{"g":"PD","v":3.09,"j":-3},{"g":"PD","v":3.09,"j":15},{"g":"PD","v":3.09,"j":-16},{"g":"PD","v":3.08,"j":2},{"g":"PD","v":3.08,"j":11},{"g":"PD","v":3.08,"j":-7},{"g":"PD","v":3.08,"j":5},{"g":"PD","v":3.08,"j":-14},
{"g":"PD","v":3.07,"j":13},{"g":"PD","v":3.07,"j":-1},{"g":"PD","v":3.06,"j":9},{"g":"PD","v":3.06,"j":-10},{"g":"PD","v":3.06,"j":16},{"g":"PD","v":3.05,"j":-5},{"g":"PD","v":3.05,"j":1},{"g":"PD","v":3.04,"j":-13},{"g":"PD","v":3.04,"j":7},{"g":"PD","v":3.03,"j":12},{"g":"PD","v":3.03,"j":-9},{"g":"PD","v":3.03,"j":4},{"g":"PD","v":3.02,"j":-15},{"g":"PD","v":3.02,"j":14},{"g":"PD","v":3.01,"j":-2},{"g":"PD","v":3.01,"j":10},{"g":"PD","v":3.00,"j":-6},{"g":"PD","v":3.00,"j":17},{"g":"PD","v":3.00,"j":-11},{"g":"PD","v":2.99,"j":3},{"g":"PD","v":2.99,"j":-17},{"g":"PD","v":2.98,"j":6},{"g":"PD","v":2.98,"j":-4},{"g":"PD","v":2.98,"j":11},{"g":"PD","v":2.97,"j":-8},{"g":"PD","v":2.97,"j":15},{"g":"PD","v":2.97,"j":0},{"g":"PD","v":2.97,"j":-12},{"g":"PD","v":2.96,"j":9},{"g":"PD","v":2.96,"j":-14},
{"g":"PD","v":2.96,"j":-12},{"g":"PD","v":2.95,"j":8},{"g":"PD","v":2.95,"j":-3},{"g":"PD","v":2.94,"j":15},{"g":"PD","v":2.93,"j":-16},{"g":"PD","v":2.92,"j":2},{"g":"PD","v":2.91,"j":11},{"g":"PD","v":2.90,"j":-7},{"g":"PD","v":2.89,"j":5},{"g":"PD","v":2.88,"j":-14},{"g":"PD","v":2.87,"j":13},{"g":"PD","v":2.86,"j":-1},{"g":"PD","v":2.85,"j":9},{"g":"PD","v":2.84,"j":-10},{"g":"PD","v":2.83,"j":16},{"g":"PD","v":2.82,"j":-5},{"g":"PD","v":2.81,"j":1},{"g":"PD","v":2.80,"j":-13},{"g":"PD","v":2.80,"j":7},{"g":"PD","v":2.79,"j":12},{"g":"PD","v":2.78,"j":-9},{"g":"PD","v":2.77,"j":4},{"g":"PD","v":2.76,"j":-15},{"g":"PD","v":2.75,"j":14},{"g":"PD","v":2.74,"j":-2},{"g":"PD","v":2.73,"j":10},{"g":"PD","v":2.72,"j":-6},{"g":"PD","v":2.71,"j":17},{"g":"PD","v":2.70,"j":-11},{"g":"PD","v":2.63,"j":14},
{"g":"PD","v":3.38,"j":-8,"s":1},{"g":"PD","v":3.29,"j":13,"s":1},{"g":"PD","v":3.28,"j":15,"s":1},{"g":"PD","v":3.27,"j":-7,"s":1},{"g":"PD","v":3.24,"j":-15,"s":1},{"g":"PD","v":3.21,"j":14,"s":1},{"g":"PD","v":3.18,"j":6,"s":1},{"g":"PD","v":3.16,"j":2,"s":1},{"g":"PD","v":3.14,"j":-1,"s":1},{"g":"PD","v":3.12,"j":4,"s":1},{"g":"PD","v":3.11,"j":9,"s":1},{"g":"PD","v":3.10,"j":-8,"s":1},{"g":"PD","v":3.08,"j":5,"s":1},{"g":"PD","v":3.06,"j":-3,"s":1},{"g":"PD","v":3.05,"j":-5,"s":1},{"g":"PD","v":3.01,"j":-10,"s":1},{"g":"PD","v":2.98,"j":-12,"s":1},{"g":"PD","v":2.93,"j":16,"s":1},{"g":"PD","v":2.91,"j":15,"s":1},{"g":"PD","v":2.88,"j":-9,"s":1}],
"D_BSP":[
{"g":"Control","v":3.93,"j":-8},{"g":"Control","v":3.73,"j":-10},{"g":"Control","v":3.66,"j":-3},{"g":"Control","v":3.64,"j":15},{"g":"Control","v":3.63,"j":-16},{"g":"Control","v":3.62,"j":2},{"g":"Control","v":3.60,"j":11},{"g":"Control","v":3.57,"j":-7},{"g":"Control","v":3.55,"j":5},{"g":"Control","v":3.53,"j":-14},
{"g":"Control","v":3.51,"j":13},{"g":"Control","v":3.50,"j":-1},{"g":"Control","v":3.49,"j":9},{"g":"Control","v":3.47,"j":-10},{"g":"Control","v":3.46,"j":16},{"g":"Control","v":3.45,"j":-5},{"g":"Control","v":3.44,"j":1},{"g":"Control","v":3.43,"j":-13},{"g":"Control","v":3.42,"j":7},{"g":"Control","v":3.41,"j":12},
{"g":"Control","v":3.40,"j":-9},{"g":"Control","v":3.39,"j":4},{"g":"Control","v":3.38,"j":-15},{"g":"Control","v":3.37,"j":14},{"g":"Control","v":3.35,"j":-2},{"g":"Control","v":3.34,"j":10},{"g":"Control","v":3.33,"j":-6},{"g":"Control","v":3.32,"j":17},{"g":"Control","v":3.31,"j":-11},{"g":"Control","v":3.31,"j":3},
{"g":"Control","v":3.30,"j":-17},{"g":"Control","v":3.28,"j":6},{"g":"Control","v":3.27,"j":-4},{"g":"Control","v":3.26,"j":11},{"g":"Control","v":3.24,"j":-8},{"g":"Control","v":3.21,"j":15},{"g":"Control","v":3.18,"j":0},{"g":"Control","v":3.16,"j":-12},{"g":"Control","v":3.14,"j":-15},{"g":"Control","v":3.11,"j":12},
{"g":"PD","v":4.22,"j":-9},{"g":"PD","v":4.04,"j":11},{"g":"PD","v":3.98,"j":13},{"g":"PD","v":3.96,"j":-4},{"g":"PD","v":3.91,"j":-2},{"g":"PD","v":3.79,"j":13},{"g":"PD","v":3.78,"j":-1},{"g":"PD","v":3.78,"j":9},{"g":"PD","v":3.77,"j":-10},{"g":"PD","v":3.76,"j":16},{"g":"PD","v":3.75,"j":-5},{"g":"PD","v":3.74,"j":1},{"g":"PD","v":3.73,"j":-13},{"g":"PD","v":3.72,"j":7},{"g":"PD","v":3.70,"j":12},{"g":"PD","v":3.69,"j":-9},{"g":"PD","v":3.68,"j":4},{"g":"PD","v":3.67,"j":-15},{"g":"PD","v":3.66,"j":14},{"g":"PD","v":3.65,"j":-2},{"g":"PD","v":3.64,"j":10},{"g":"PD","v":3.63,"j":-6},
{"g":"PD","v":3.62,"j":17},{"g":"PD","v":3.62,"j":-11},{"g":"PD","v":3.62,"j":3},{"g":"PD","v":3.61,"j":-17},{"g":"PD","v":3.61,"j":6},{"g":"PD","v":3.61,"j":-4},{"g":"PD","v":3.60,"j":11},{"g":"PD","v":3.60,"j":-8},{"g":"PD","v":3.60,"j":15},{"g":"PD","v":3.59,"j":0},{"g":"PD","v":3.59,"j":-12},{"g":"PD","v":3.59,"j":9},{"g":"PD","v":3.58,"j":-14},{"g":"PD","v":3.58,"j":-12},{"g":"PD","v":3.58,"j":8},{"g":"PD","v":3.57,"j":-3},{"g":"PD","v":3.57,"j":15},{"g":"PD","v":3.57,"j":-16},{"g":"PD","v":3.57,"j":2},{"g":"PD","v":3.56,"j":11},{"g":"PD","v":3.56,"j":-7},{"g":"PD","v":3.56,"j":5},
{"g":"PD","v":3.55,"j":-14},{"g":"PD","v":3.55,"j":13},{"g":"PD","v":3.54,"j":-1},{"g":"PD","v":3.54,"j":9},{"g":"PD","v":3.53,"j":-10},{"g":"PD","v":3.52,"j":16},{"g":"PD","v":3.52,"j":-5},{"g":"PD","v":3.51,"j":1},{"g":"PD","v":3.50,"j":-13},{"g":"PD","v":3.50,"j":7},{"g":"PD","v":3.49,"j":12},{"g":"PD","v":3.48,"j":-9},{"g":"PD","v":3.48,"j":4},{"g":"PD","v":3.47,"j":-15},{"g":"PD","v":3.46,"j":14},{"g":"PD","v":3.46,"j":-2},{"g":"PD","v":3.45,"j":10},{"g":"PD","v":3.44,"j":-6},{"g":"PD","v":3.44,"j":17},{"g":"PD","v":3.43,"j":-11},{"g":"PD","v":3.43,"j":3},{"g":"PD","v":3.42,"j":-17},
{"g":"PD","v":3.41,"j":6},{"g":"PD","v":3.41,"j":-4},{"g":"PD","v":3.40,"j":11},{"g":"PD","v":3.40,"j":-8},{"g":"PD","v":3.39,"j":15},{"g":"PD","v":3.39,"j":0},{"g":"PD","v":3.38,"j":-12},{"g":"PD","v":3.38,"j":9},{"g":"PD","v":3.37,"j":-14},{"g":"PD","v":3.36,"j":-12},{"g":"PD","v":3.35,"j":8},{"g":"PD","v":3.34,"j":-3},{"g":"PD","v":3.33,"j":15},{"g":"PD","v":3.32,"j":-16},{"g":"PD","v":3.31,"j":2},{"g":"PD","v":3.30,"j":11},{"g":"PD","v":3.28,"j":-7},{"g":"PD","v":3.27,"j":5},{"g":"PD","v":3.26,"j":-14},{"g":"PD","v":3.24,"j":13},{"g":"PD","v":3.17,"j":-1},{"g":"PD","v":3.04,"j":9}],
"R_BSP":[
{"g":"ALS","v":4.33,"j":-2},{"g":"ALS","v":4.17,"j":-1},{"g":"ALS","v":4.03,"j":-3},{"g":"ALS","v":3.97,"j":0},{"g":"ALS","v":3.95,"j":-6},{"g":"ALS","v":3.91,"j":-5},{"g":"ALS","v":3.87,"j":8},{"g":"ALS","v":3.84,"j":-13},{"g":"ALS","v":3.81,"j":7},{"g":"ALS","v":3.78,"j":12},{"g":"ALS","v":3.76,"j":-9},{"g":"ALS","v":3.72,"j":4},{"g":"ALS","v":3.70,"j":-15},{"g":"ALS","v":3.69,"j":14},
{"g":"ALS","v":3.68,"j":-2},{"g":"ALS","v":3.67,"j":10},{"g":"ALS","v":3.67,"j":-6},{"g":"ALS","v":3.66,"j":17},{"g":"ALS","v":3.65,"j":-11},{"g":"ALS","v":3.65,"j":3},{"g":"ALS","v":3.64,"j":-17},{"g":"ALS","v":3.63,"j":6},{"g":"ALS","v":3.63,"j":-4},{"g":"ALS","v":3.62,"j":11},{"g":"ALS","v":3.61,"j":-8},{"g":"ALS","v":3.61,"j":15},{"g":"ALS","v":3.60,"j":0},{"g":"ALS","v":3.60,"j":-12},
{"g":"ALS","v":3.59,"j":9},{"g":"ALS","v":3.58,"j":-14},{"g":"ALS","v":3.57,"j":-12},{"g":"ALS","v":3.56,"j":8},{"g":"ALS","v":3.55,"j":-3},{"g":"ALS","v":3.54,"j":15},{"g":"ALS","v":3.53,"j":-16},{"g":"ALS","v":3.52,"j":2},{"g":"ALS","v":3.51,"j":11},{"g":"ALS","v":3.50,"j":-7},{"g":"ALS","v":3.49,"j":5},{"g":"ALS","v":3.47,"j":-14},{"g":"ALS","v":3.46,"j":-12},{"g":"ALS","v":3.45,"j":8},
{"g":"ALS","v":3.44,"j":-3},{"g":"ALS","v":3.43,"j":15},{"g":"ALS","v":3.42,"j":-16},{"g":"ALS","v":3.41,"j":2},{"g":"ALS","v":3.40,"j":11},{"g":"ALS","v":3.39,"j":-7},{"g":"ALS","v":3.38,"j":5},{"g":"ALS","v":3.37,"j":-14},{"g":"ALS","v":3.36,"j":13},{"g":"ALS","v":3.35,"j":-1},{"g":"ALS","v":3.32,"j":9},{"g":"ALS","v":3.30,"j":-10},{"g":"ALS","v":3.28,"j":16},{"g":"ALS","v":3.22,"j":9},
{"g":"Control","v":3.96,"j":5},{"g":"Control","v":3.90,"j":6},{"g":"Control","v":3.88,"j":12},{"g":"Control","v":3.86,"j":-10},{"g":"Control","v":3.85,"j":-2},{"g":"Control","v":3.82,"j":10},{"g":"Control","v":3.81,"j":-6},{"g":"Control","v":3.78,"j":17},{"g":"Control","v":3.76,"j":-11},{"g":"Control","v":3.74,"j":3},{"g":"Control","v":3.72,"j":-17},{"g":"Control","v":3.71,"j":6},{"g":"Control","v":3.70,"j":-4},{"g":"Control","v":3.69,"j":11},{"g":"Control","v":3.68,"j":-8},{"g":"Control","v":3.67,"j":15},{"g":"Control","v":3.66,"j":0},{"g":"Control","v":3.65,"j":-12},{"g":"Control","v":3.64,"j":9},{"g":"Control","v":3.63,"j":-14},{"g":"Control","v":3.62,"j":-12},{"g":"Control","v":3.62,"j":8},{"g":"Control","v":3.61,"j":-3},{"g":"Control","v":3.61,"j":15},
{"g":"Control","v":3.60,"j":-16},{"g":"Control","v":3.59,"j":2},{"g":"Control","v":3.59,"j":11},{"g":"Control","v":3.59,"j":-7},{"g":"Control","v":3.58,"j":5},{"g":"Control","v":3.58,"j":-14},{"g":"Control","v":3.57,"j":13},{"g":"Control","v":3.57,"j":-1},{"g":"Control","v":3.56,"j":9},{"g":"Control","v":3.56,"j":-10},{"g":"Control","v":3.56,"j":16},{"g":"Control","v":3.55,"j":-5},{"g":"Control","v":3.55,"j":1},{"g":"Control","v":3.54,"j":-13},{"g":"Control","v":3.54,"j":7},{"g":"Control","v":3.54,"j":12},{"g":"Control","v":3.53,"j":-9},{"g":"Control","v":3.53,"j":4},{"g":"Control","v":3.53,"j":-15},{"g":"Control","v":3.52,"j":14},{"g":"Control","v":3.52,"j":-2},{"g":"Control","v":3.52,"j":10},{"g":"Control","v":3.51,"j":-6},{"g":"Control","v":3.51,"j":17},
{"g":"Control","v":3.51,"j":-11},{"g":"Control","v":3.50,"j":3},{"g":"Control","v":3.50,"j":-17},{"g":"Control","v":3.50,"j":6},{"g":"Control","v":3.49,"j":-4},{"g":"Control","v":3.49,"j":11},{"g":"Control","v":3.49,"j":-8},{"g":"Control","v":3.48,"j":15},{"g":"Control","v":3.48,"j":0},{"g":"Control","v":3.48,"j":-12},{"g":"Control","v":3.47,"j":9},{"g":"Control","v":3.47,"j":-14},{"g":"Control","v":3.47,"j":-12},{"g":"Control","v":3.46,"j":8},{"g":"Control","v":3.46,"j":-3},{"g":"Control","v":3.46,"j":15},{"g":"Control","v":3.45,"j":-16},{"g":"Control","v":3.45,"j":2},{"g":"Control","v":3.45,"j":11},{"g":"Control","v":3.45,"j":-7},{"g":"Control","v":3.44,"j":5},{"g":"Control","v":3.44,"j":-14},{"g":"Control","v":3.44,"j":13},{"g":"Control","v":3.44,"j":-1},
{"g":"Control","v":3.43,"j":9},{"g":"Control","v":3.42,"j":-10},{"g":"Control","v":3.41,"j":16},{"g":"Control","v":3.40,"j":-5},{"g":"Control","v":3.39,"j":1},{"g":"Control","v":3.38,"j":-13},{"g":"Control","v":3.37,"j":7},{"g":"Control","v":3.36,"j":12},{"g":"Control","v":3.35,"j":-9},{"g":"Control","v":3.34,"j":4},{"g":"Control","v":3.33,"j":-15},{"g":"Control","v":3.32,"j":14},{"g":"Control","v":3.31,"j":-2},{"g":"Control","v":3.30,"j":10},{"g":"Control","v":3.29,"j":-6},{"g":"Control","v":3.28,"j":17},{"g":"Control","v":3.26,"j":-11},{"g":"Control","v":3.24,"j":3},{"g":"Control","v":3.22,"j":-17},{"g":"Control","v":3.20,"j":10},{"g":"Control","v":3.19,"j":8},{"g":"Control","v":3.14,"j":-11},{"g":"Control","v":3.11,"j":-10},{"g":"Control","v":3.09,"j":-9},
{"g":"PD","v":4.18,"j":10},{"g":"PD","v":4.05,"j":6},{"g":"PD","v":4.04,"j":-4},{"g":"PD","v":3.99,"j":11},{"g":"PD","v":3.98,"j":-8},{"g":"PD","v":3.97,"j":15},{"g":"PD","v":3.96,"j":0},{"g":"PD","v":3.95,"j":-12},{"g":"PD","v":3.93,"j":9},{"g":"PD","v":3.92,"j":-14},{"g":"PD","v":3.91,"j":-12},{"g":"PD","v":3.90,"j":8},{"g":"PD","v":3.89,"j":-3},{"g":"PD","v":3.88,"j":15},{"g":"PD","v":3.87,"j":-16},{"g":"PD","v":3.86,"j":2},{"g":"PD","v":3.85,"j":11},{"g":"PD","v":3.84,"j":-7},{"g":"PD","v":3.83,"j":5},{"g":"PD","v":3.82,"j":-14},{"g":"PD","v":3.81,"j":13},{"g":"PD","v":3.80,"j":-1},{"g":"PD","v":3.79,"j":9},{"g":"PD","v":3.79,"j":-10},{"g":"PD","v":3.78,"j":16},{"g":"PD","v":3.78,"j":-5},{"g":"PD","v":3.77,"j":1},{"g":"PD","v":3.77,"j":-13},{"g":"PD","v":3.76,"j":7},{"g":"PD","v":3.76,"j":12},
{"g":"PD","v":3.75,"j":-9},{"g":"PD","v":3.74,"j":4},{"g":"PD","v":3.74,"j":-15},{"g":"PD","v":3.73,"j":14},{"g":"PD","v":3.73,"j":-2},{"g":"PD","v":3.72,"j":10},{"g":"PD","v":3.72,"j":-6},{"g":"PD","v":3.71,"j":17},{"g":"PD","v":3.71,"j":-11},{"g":"PD","v":3.70,"j":3},{"g":"PD","v":3.70,"j":-17},{"g":"PD","v":3.69,"j":6},{"g":"PD","v":3.69,"j":-4},{"g":"PD","v":3.68,"j":11},{"g":"PD","v":3.68,"j":-8},{"g":"PD","v":3.67,"j":15},{"g":"PD","v":3.67,"j":0},{"g":"PD","v":3.66,"j":-12},{"g":"PD","v":3.66,"j":9},{"g":"PD","v":3.66,"j":-14},{"g":"PD","v":3.65,"j":-12},{"g":"PD","v":3.65,"j":8},{"g":"PD","v":3.65,"j":-3},{"g":"PD","v":3.64,"j":15},{"g":"PD","v":3.64,"j":-16},{"g":"PD","v":3.64,"j":2},{"g":"PD","v":3.63,"j":11},{"g":"PD","v":3.63,"j":-7},{"g":"PD","v":3.63,"j":5},{"g":"PD","v":3.63,"j":-14},
{"g":"PD","v":3.62,"j":13},{"g":"PD","v":3.62,"j":-1},{"g":"PD","v":3.61,"j":9},{"g":"PD","v":3.61,"j":-10},{"g":"PD","v":3.60,"j":16},{"g":"PD","v":3.60,"j":-5},{"g":"PD","v":3.59,"j":1},{"g":"PD","v":3.59,"j":-13},{"g":"PD","v":3.58,"j":7},{"g":"PD","v":3.58,"j":12},{"g":"PD","v":3.57,"j":-9},{"g":"PD","v":3.57,"j":4},{"g":"PD","v":3.56,"j":-15},{"g":"PD","v":3.56,"j":14},{"g":"PD","v":3.55,"j":-2},{"g":"PD","v":3.55,"j":10},{"g":"PD","v":3.54,"j":-6},{"g":"PD","v":3.54,"j":17},{"g":"PD","v":3.53,"j":-11},{"g":"PD","v":3.53,"j":3},{"g":"PD","v":3.52,"j":-17},{"g":"PD","v":3.52,"j":6},{"g":"PD","v":3.52,"j":-4},{"g":"PD","v":3.51,"j":11},{"g":"PD","v":3.51,"j":-8},{"g":"PD","v":3.51,"j":15},{"g":"PD","v":3.50,"j":0},{"g":"PD","v":3.50,"j":-12},{"g":"PD","v":3.50,"j":9},{"g":"PD","v":3.50,"j":-14},
{"g":"PD","v":3.49,"j":-12},{"g":"PD","v":3.48,"j":8},{"g":"PD","v":3.47,"j":-3},{"g":"PD","v":3.46,"j":15},{"g":"PD","v":3.45,"j":-16},{"g":"PD","v":3.44,"j":2},{"g":"PD","v":3.43,"j":11},{"g":"PD","v":3.42,"j":-7},{"g":"PD","v":3.41,"j":5},{"g":"PD","v":3.40,"j":-14},{"g":"PD","v":3.39,"j":13},{"g":"PD","v":3.38,"j":-1},{"g":"PD","v":3.37,"j":9},{"g":"PD","v":3.36,"j":-10},{"g":"PD","v":3.35,"j":16},{"g":"PD","v":3.34,"j":-5},{"g":"PD","v":3.33,"j":1},{"g":"PD","v":3.32,"j":-13},{"g":"PD","v":3.31,"j":7},{"g":"PD","v":3.30,"j":12},{"g":"PD","v":3.29,"j":-9},{"g":"PD","v":3.28,"j":4},{"g":"PD","v":3.27,"j":-15},{"g":"PD","v":3.26,"j":14},{"g":"PD","v":3.25,"j":-2},{"g":"PD","v":3.24,"j":10},{"g":"PD","v":3.23,"j":-6},{"g":"PD","v":3.22,"j":17},{"g":"PD","v":3.21,"j":-11},{"g":"PD","v":3.21,"j":3},
{"g":"PD","v":4.02,"j":3,"s":1},{"g":"PD","v":3.91,"j":-2,"s":1},{"g":"PD","v":3.90,"j":-7,"s":1},{"g":"PD","v":3.86,"j":-14,"s":1},{"g":"PD","v":3.84,"j":-12,"s":1},{"g":"PD","v":3.82,"j":-10,"s":1},{"g":"PD","v":3.77,"j":-5,"s":1},{"g":"PD","v":3.74,"j":-8,"s":1},{"g":"PD","v":3.72,"j":2,"s":1},{"g":"PD","v":3.67,"j":-3,"s":1},{"g":"PD","v":3.64,"j":-6,"s":1},{"g":"PD","v":3.60,"j":-16,"s":1},{"g":"PD","v":3.58,"j":-1,"s":1},{"g":"PD","v":3.56,"j":4,"s":1},{"g":"PD","v":3.54,"j":-9,"s":1},{"g":"PD","v":3.50,"j":15,"s":1},{"g":"PD","v":3.47,"j":-15,"s":1},{"g":"PD","v":3.45,"j":-13,"s":1},{"g":"PD","v":3.42,"j":-11,"s":1},{"g":"PD","v":3.38,"j":6,"s":1}]
},
"title":{"text":"Analyte level (log₁₀ RFU)","orient":"left","anchor":"middle","fontSize":21.5,"offset":16},
"vconcat":[{
"title":{"text":"Participant group","orient":"bottom","anchor":"middle","fontSize":21.5,"offset":11},
"spacing":22,
"resolve":{"scale":{"x":"independent","y":"independent","xOffset":"independent"}},
"hconcat":[
{"title":{"text":"Discovery Cohort","fontSize":27.5,"anchor":"middle","offset":8},
"spacing":16,
"resolve":{"scale":{"x":"independent","y":"independent","xOffset":"independent"}},
"vconcat":[
{"title":{"text":"ACY1","anchor":"start","frame":"group","fontSize":20,"offset":8},"width":261,"height":171,"layer":[
{"data":{"name":"box"},"transform":[{"filter":"datum.k=='D'&&datum.a=='ACY1'"}],"mark":{"type":"rule","color":"#1a1a8e","strokeWidth":1.3},"encoding":{"x":{"field":"g","type":"nominal","title":null,"scale":{"type":"point","padding":0.6,"domain":["Control","PD"]}},"y":{"field":"lo","type":"quantitative","title":null,"scale":{"domain":[2.92,4.68],"nice":false,"zero":false},"axis":{"values":[3,3.2,3.4,3.6,3.8,4,4.2,4.4,4.6],"format":".1f","labelOverlap":false,"tickCount":12}},"y2":{"field":"hi"}}},
{"data":{"name":"box"},"transform":[{"filter":"datum.k=='D'&&datum.a=='ACY1'"}],"mark":{"type":"bar","width":89,"fill":"#e3e5f7","stroke":"#1a1a8e","strokeWidth":1.3},"encoding":{"x":{"field":"g","type":"nominal","title":null},"y":{"field":"q1","type":"quantitative","title":null},"y2":{"field":"q3"}}},
{"data":{"name":"box"},"transform":[{"filter":"datum.k=='D'&&datum.a=='ACY1'"}],"mark":{"type":"tick","size":89,"thickness":2.8,"color":"#1a1a8e","opacity":1},"encoding":{"x":{"field":"g","type":"nominal","title":null},"y":{"field":"md","type":"quantitative","title":null}}},
{"data":{"name":"D_ACY1"},"mark":{"type":"circle","size":52,"opacity":1,"strokeWidth":0.8},"encoding":{"x":{"field":"g","type":"nominal","title":null},"xOffset":{"field":"j","type":"quantitative","scale":{"domain":[-50,50],"range":[-59.3,59.3]}},"y":{"field":"v","type":"quantitative","title":null},"fill":{"condition":{"test":"datum.s==1","value":"#f3c3fb"},"field":"g","type":"nominal","scale":{"domain":["ALS","Control","PD"],"range":["#f7d106","#1fbdf0","#e3292d"]},"legend":null},"stroke":{"condition":{"test":"datum.s==1","value":"#6b5cf0"},"value":"#141414"}}},
{"data":{"name":"sig"},"transform":[{"filter":"datum.k=='D'&&datum.a=='ACY1'"}],"mark":{"type":"rule","color":"#a5a5cc","strokeWidth":1.2},"encoding":{"x":{"field":"g1","type":"nominal","title":null},"x2":{"field":"g2"},"y":{"field":"y","type":"quantitative","title":null}}},
{"data":{"name":"sig"},"transform":[{"filter":"datum.k=='D'&&datum.a=='ACY1'"}],"mark":{"type":"rule","color":"#a5a5cc","strokeWidth":1.2},"encoding":{"x":{"field":"g1","type":"nominal","title":null},"y":{"field":"y0","type":"quantitative","title":null},"y2":{"field":"y"}}},
{"data":{"name":"sig"},"transform":[{"filter":"datum.k=='D'&&datum.a=='ACY1'"}],"mark":{"type":"rule","color":"#a5a5cc","strokeWidth":1.2},"encoding":{"x":{"field":"g2","type":"nominal","title":null},"y":{"field":"y0","type":"quantitative","title":null},"y2":{"field":"y"}}},
{"data":{"name":"sig"},"transform":[{"filter":"datum.k=='D'&&datum.a=='ACY1'"}],"mark":{"type":"text","fontSize":26,"color":"#4b4b90","dx":59.3,"dy":7,"align":"center","baseline":"alphabetic"},"encoding":{"x":{"field":"g1","type":"nominal","title":null},"y":{"field":"y","type":"quantitative","title":null},"text":{"field":"lab"}}}]},
{"title":{"text":"OMD","anchor":"start","frame":"group","fontSize":20,"offset":8},"width":261,"height":171,"layer":[
{"data":{"name":"box"},"transform":[{"filter":"datum.k=='D'&&datum.a=='OMD'"}],"mark":{"type":"rule","color":"#1a1a8e","strokeWidth":1.3},"encoding":{"x":{"field":"g","type":"nominal","title":null,"scale":{"type":"point","padding":0.6,"domain":["Control","PD"]}},"y":{"field":"lo","type":"quantitative","title":null,"scale":{"domain":[2.92,4.68],"nice":false,"zero":false},"axis":{"values":[3,3.2,3.4,3.6,3.8,4,4.2,4.4,4.6],"format":".1f","labelOverlap":false,"tickCount":12}},"y2":{"field":"hi"}}},
{"data":{"name":"box"},"transform":[{"filter":"datum.k=='D'&&datum.a=='OMD'"}],"mark":{"type":"bar","width":89,"fill":"#e3e5f7","stroke":"#1a1a8e","strokeWidth":1.3},"encoding":{"x":{"field":"g","type":"nominal","title":null},"y":{"field":"q1","type":"quantitative","title":null},"y2":{"field":"q3"}}},
{"data":{"name":"box"},"transform":[{"filter":"datum.k=='D'&&datum.a=='OMD'"}],"mark":{"type":"tick","size":89,"thickness":2.8,"color":"#1a1a8e","opacity":1},"encoding":{"x":{"field":"g","type":"nominal","title":null},"y":{"field":"md","type":"quantitative","title":null}}},
{"data":{"name":"D_OMD"},"mark":{"type":"circle","size":52,"opacity":1,"strokeWidth":0.8},"encoding":{"x":{"field":"g","type":"nominal","title":null},"xOffset":{"field":"j","type":"quantitative","scale":{"domain":[-50,50],"range":[-59.3,59.3]}},"y":{"field":"v","type":"quantitative","title":null},"fill":{"condition":{"test":"datum.s==1","value":"#f3c3fb"},"field":"g","type":"nominal","scale":{"domain":["ALS","Control","PD"],"range":["#f7d106","#1fbdf0","#e3292d"]},"legend":null},"stroke":{"condition":{"test":"datum.s==1","value":"#6b5cf0"},"value":"#141414"}}},
{"data":{"name":"sig"},"transform":[{"filter":"datum.k=='D'&&datum.a=='OMD'"}],"mark":{"type":"rule","color":"#a5a5cc","strokeWidth":1.2},"encoding":{"x":{"field":"g1","type":"nominal","title":null},"x2":{"field":"g2"},"y":{"field":"y","type":"quantitative","title":null}}},
{"data":{"name":"sig"},"transform":[{"filter":"datum.k=='D'&&datum.a=='OMD'"}],"mark":{"type":"rule","color":"#a5a5cc","strokeWidth":1.2},"encoding":{"x":{"field":"g1","type":"nominal","title":null},"y":{"field":"y0","type":"quantitative","title":null},"y2":{"field":"y"}}},
{"data":{"name":"sig"},"transform":[{"filter":"datum.k=='D'&&datum.a=='OMD'"}],"mark":{"type":"rule","color":"#a5a5cc","strokeWidth":1.2},"encoding":{"x":{"field":"g2","type":"nominal","title":null},"y":{"field":"y0","type":"quantitative","title":null},"y2":{"field":"y"}}},
{"data":{"name":"sig"},"transform":[{"filter":"datum.k=='D'&&datum.a=='OMD'"}],"mark":{"type":"text","fontSize":26,"color":"#4b4b90","dx":59.3,"dy":7,"align":"center","baseline":"alphabetic"},"encoding":{"x":{"field":"g1","type":"nominal","title":null},"y":{"field":"y","type":"quantitative","title":null},"text":{"field":"lab"}}}]},
{"title":{"text":"GHR","anchor":"start","frame":"group","fontSize":20,"offset":8},"width":261,"height":171,"layer":[
{"data":{"name":"box"},"transform":[{"filter":"datum.k=='D'&&datum.a=='GHR'"}],"mark":{"type":"rule","color":"#1a1a8e","strokeWidth":1.3},"encoding":{"x":{"field":"g","type":"nominal","title":null,"scale":{"type":"point","padding":0.6,"domain":["Control","PD"]}},"y":{"field":"lo","type":"quantitative","title":null,"scale":{"domain":[2.55,3.65],"nice":false,"zero":false},"axis":{"values":[2.6,2.8,3,3.2,3.4,3.6],"format":".1f","labelOverlap":false,"tickCount":12}},"y2":{"field":"hi"}}},
{"data":{"name":"box"},"transform":[{"filter":"datum.k=='D'&&datum.a=='GHR'"}],"mark":{"type":"bar","width":89,"fill":"#e3e5f7","stroke":"#1a1a8e","strokeWidth":1.3},"encoding":{"x":{"field":"g","type":"nominal","title":null},"y":{"field":"q1","type":"quantitative","title":null},"y2":{"field":"q3"}}},
{"data":{"name":"box"},"transform":[{"filter":"datum.k=='D'&&datum.a=='GHR'"}],"mark":{"type":"tick","size":89,"thickness":2.8,"color":"#1a1a8e","opacity":1},"encoding":{"x":{"field":"g","type":"nominal","title":null},"y":{"field":"md","type":"quantitative","title":null}}},
{"data":{"name":"D_GHR"},"mark":{"type":"circle","size":52,"opacity":1,"strokeWidth":0.8},"encoding":{"x":{"field":"g","type":"nominal","title":null},"xOffset":{"field":"j","type":"quantitative","scale":{"domain":[-50,50],"range":[-59.3,59.3]}},"y":{"field":"v","type":"quantitative","title":null},"fill":{"condition":{"test":"datum.s==1","value":"#f3c3fb"},"field":"g","type":"nominal","scale":{"domain":["ALS","Control","PD"],"range":["#f7d106","#1fbdf0","#e3292d"]},"legend":null},"stroke":{"condition":{"test":"datum.s==1","value":"#6b5cf0"},"value":"#141414"}}},
{"data":{"name":"sig"},"transform":[{"filter":"datum.k=='D'&&datum.a=='GHR'"}],"mark":{"type":"rule","color":"#a5a5cc","strokeWidth":1.2},"encoding":{"x":{"field":"g1","type":"nominal","title":null},"x2":{"field":"g2"},"y":{"field":"y","type":"quantitative","title":null}}},
{"data":{"name":"sig"},"transform":[{"filter":"datum.k=='D'&&datum.a=='GHR'"}],"mark":{"type":"rule","color":"#a5a5cc","strokeWidth":1.2},"encoding":{"x":{"field":"g1","type":"nominal","title":null},"y":{"field":"y0","type":"quantitative","title":null},"y2":{"field":"y"}}},
{"data":{"name":"sig"},"transform":[{"filter":"datum.k=='D'&&datum.a=='GHR'"}],"mark":{"type":"rule","color":"#a5a5cc","strokeWidth":1.2},"encoding":{"x":{"field":"g2","type":"nominal","title":null},"y":{"field":"y0","type":"quantitative","title":null},"y2":{"field":"y"}}},
{"data":{"name":"sig"},"transform":[{"filter":"datum.k=='D'&&datum.a=='GHR'"}],"mark":{"type":"text","fontSize":26,"color":"#4b4b90","dx":59.3,"dy":7,"align":"center","baseline":"alphabetic"},"encoding":{"x":{"field":"g1","type":"nominal","title":null},"y":{"field":"y","type":"quantitative","title":null},"text":{"field":"lab"}}}]},
{"title":{"text":"BSP","anchor":"start","frame":"group","fontSize":20,"offset":8},"width":261,"height":171,"layer":[
{"data":{"name":"box"},"transform":[{"filter":"datum.k=='D'&&datum.a=='BSP'"}],"mark":{"type":"rule","color":"#1a1a8e","strokeWidth":1.3},"encoding":{"x":{"field":"g","type":"nominal","title":null,"scale":{"type":"point","padding":0.6,"domain":["Control","PD"]}},"y":{"field":"lo","type":"quantitative","title":null,"scale":{"domain":[2.93,4.47],"nice":false,"zero":false},"axis":{"values":[3,3.2,3.4,3.6,3.8,4,4.2,4.4],"format":".1f","labelOverlap":false,"tickCount":12}},"y2":{"field":"hi"}}},
{"data":{"name":"box"},"transform":[{"filter":"datum.k=='D'&&datum.a=='BSP'"}],"mark":{"type":"bar","width":89,"fill":"#e3e5f7","stroke":"#1a1a8e","strokeWidth":1.3},"encoding":{"x":{"field":"g","type":"nominal","title":null},"y":{"field":"q1","type":"quantitative","title":null},"y2":{"field":"q3"}}},
{"data":{"name":"box"},"transform":[{"filter":"datum.k=='D'&&datum.a=='BSP'"}],"mark":{"type":"tick","size":89,"thickness":2.8,"color":"#1a1a8e","opacity":1},"encoding":{"x":{"field":"g","type":"nominal","title":null},"y":{"field":"md","type":"quantitative","title":null}}},
{"data":{"name":"D_BSP"},"mark":{"type":"circle","size":52,"opacity":1,"strokeWidth":0.8},"encoding":{"x":{"field":"g","type":"nominal","title":null},"xOffset":{"field":"j","type":"quantitative","scale":{"domain":[-50,50],"range":[-59.3,59.3]}},"y":{"field":"v","type":"quantitative","title":null},"fill":{"condition":{"test":"datum.s==1","value":"#f3c3fb"},"field":"g","type":"nominal","scale":{"domain":["ALS","Control","PD"],"range":["#f7d106","#1fbdf0","#e3292d"]},"legend":null},"stroke":{"condition":{"test":"datum.s==1","value":"#6b5cf0"},"value":"#141414"}}},
{"data":{"name":"sig"},"transform":[{"filter":"datum.k=='D'&&datum.a=='BSP'"}],"mark":{"type":"rule","color":"#a5a5cc","strokeWidth":1.2},"encoding":{"x":{"field":"g1","type":"nominal","title":null},"x2":{"field":"g2"},"y":{"field":"y","type":"quantitative","title":null}}},
{"data":{"name":"sig"},"transform":[{"filter":"datum.k=='D'&&datum.a=='BSP'"}],"mark":{"type":"rule","color":"#a5a5cc","strokeWidth":1.2},"encoding":{"x":{"field":"g1","type":"nominal","title":null},"y":{"field":"y0","type":"quantitative","title":null},"y2":{"field":"y"}}},
{"data":{"name":"sig"},"transform":[{"filter":"datum.k=='D'&&datum.a=='BSP'"}],"mark":{"type":"rule","color":"#a5a5cc","strokeWidth":1.2},"encoding":{"x":{"field":"g2","type":"nominal","title":null},"y":{"field":"y0","type":"quantitative","title":null},"y2":{"field":"y"}}},
{"data":{"name":"sig"},"transform":[{"filter":"datum.k=='D'&&datum.a=='BSP'"}],"mark":{"type":"text","fontSize":26,"color":"#4b4b90","dx":59.3,"dy":7,"align":"center","baseline":"alphabetic"},"encoding":{"x":{"field":"g1","type":"nominal","title":null},"y":{"field":"y","type":"quantitative","title":null},"text":{"field":"lab"}}}]}
]},
{"title":{"text":"Replication Cohort","fontSize":27.5,"anchor":"middle","offset":8},
"spacing":16,
"resolve":{"scale":{"x":"independent","y":"independent","xOffset":"independent"}},
"vconcat":[
{"title":{"text":"ACY1","anchor":"start","frame":"group","fontSize":20,"offset":8},"width":356,"height":171,"layer":[
{"data":{"name":"box"},"transform":[{"filter":"datum.k=='R'&&datum.a=='ACY1'"}],"mark":{"type":"rule","color":"#2c4a8c","strokeWidth":1.3},"encoding":{"x":{"field":"g","type":"nominal","title":null,"scale":{"type":"point","padding":0.6,"domain":["ALS","Control","PD"]}},"y":{"field":"lo","type":"quantitative","title":null,"scale":{"domain":[2.92,4.68],"nice":false,"zero":false},"axis":{"values":[3,3.2,3.4,3.6,3.8,4,4.2,4.4,4.6],"format":".1f","labelOverlap":false,"tickCount":12}},"y2":{"field":"hi"}}},
{"data":{"name":"box"},"transform":[{"filter":"datum.k=='R'&&datum.a=='ACY1'"}],"mark":{"type":"bar","width":83,"fill":"#e3e5f7","stroke":"#2c4a8c","strokeWidth":1.3},"encoding":{"x":{"field":"g","type":"nominal","title":null},"y":{"field":"q1","type":"quantitative","title":null},"y2":{"field":"q3"}}},
{"data":{"name":"box"},"transform":[{"filter":"datum.k=='R'&&datum.a=='ACY1'"}],"mark":{"type":"tick","size":83,"thickness":2.8,"color":"#2c4a8c","opacity":1},"encoding":{"x":{"field":"g","type":"nominal","title":null},"y":{"field":"md","type":"quantitative","title":null}}},
{"data":{"name":"R_ACY1"},"mark":{"type":"circle","size":52,"opacity":1,"strokeWidth":0.8},"encoding":{"x":{"field":"g","type":"nominal","title":null},"xOffset":{"field":"j","type":"quantitative","scale":{"domain":[-50,50],"range":[-55.6,55.6]}},"y":{"field":"v","type":"quantitative","title":null},"fill":{"condition":{"test":"datum.s==1","value":"#f3c3fb"},"field":"g","type":"nominal","scale":{"domain":["ALS","Control","PD"],"range":["#f7d106","#1fbdf0","#e3292d"]},"legend":null},"stroke":{"condition":{"test":"datum.s==1","value":"#6b5cf0"},"value":"#141414"}}},
{"data":{"name":"sig"},"transform":[{"filter":"datum.k=='R'&&datum.a=='ACY1'"}],"mark":{"type":"rule","color":"#a5a5cc","strokeWidth":1.2},"encoding":{"x":{"field":"g1","type":"nominal","title":null},"x2":{"field":"g2"},"y":{"field":"y","type":"quantitative","title":null}}},
{"data":{"name":"sig"},"transform":[{"filter":"datum.k=='R'&&datum.a=='ACY1'"}],"mark":{"type":"rule","color":"#a5a5cc","strokeWidth":1.2},"encoding":{"x":{"field":"g1","type":"nominal","title":null},"y":{"field":"y0","type":"quantitative","title":null},"y2":{"field":"y"}}},
{"data":{"name":"sig"},"transform":[{"filter":"datum.k=='R'&&datum.a=='ACY1'"}],"mark":{"type":"rule","color":"#a5a5cc","strokeWidth":1.2},"encoding":{"x":{"field":"g2","type":"nominal","title":null},"y":{"field":"y0","type":"quantitative","title":null},"y2":{"field":"y"}}},
{"data":{"name":"sig"},"transform":[{"filter":"datum.k=='R'&&datum.a=='ACY1'"}],"mark":{"type":"text","fontSize":26,"color":"#4b4b90","dx":55.6,"dy":7,"align":"center","baseline":"alphabetic"},"encoding":{"x":{"field":"g1","type":"nominal","title":null},"y":{"field":"y","type":"quantitative","title":null},"text":{"field":"lab"}}}]},
{"title":{"text":"OMD","anchor":"start","frame":"group","fontSize":20,"offset":8},"width":356,"height":171,"layer":[
{"data":{"name":"box"},"transform":[{"filter":"datum.k=='R'&&datum.a=='OMD'"}],"mark":{"type":"rule","color":"#2c4a8c","strokeWidth":1.3},"encoding":{"x":{"field":"g","type":"nominal","title":null,"scale":{"type":"point","padding":0.6,"domain":["ALS","Control","PD"]}},"y":{"field":"lo","type":"quantitative","title":null,"scale":{"domain":[2.92,4.68],"nice":false,"zero":false},"axis":{"values":[3,3.2,3.4,3.6,3.8,4,4.2,4.4,4.6],"format":".1f","labelOverlap":false,"tickCount":12}},"y2":{"field":"hi"}}},
{"data":{"name":"box"},"transform":[{"filter":"datum.k=='R'&&datum.a=='OMD'"}],"mark":{"type":"bar","width":83,"fill":"#e3e5f7","stroke":"#2c4a8c","strokeWidth":1.3},"encoding":{"x":{"field":"g","type":"nominal","title":null},"y":{"field":"q1","type":"quantitative","title":null},"y2":{"field":"q3"}}},
{"data":{"name":"box"},"transform":[{"filter":"datum.k=='R'&&datum.a=='OMD'"}],"mark":{"type":"tick","size":83,"thickness":2.8,"color":"#2c4a8c","opacity":1},"encoding":{"x":{"field":"g","type":"nominal","title":null},"y":{"field":"md","type":"quantitative","title":null}}},
{"data":{"name":"R_OMD"},"mark":{"type":"circle","size":52,"opacity":1,"strokeWidth":0.8},"encoding":{"x":{"field":"g","type":"nominal","title":null},"xOffset":{"field":"j","type":"quantitative","scale":{"domain":[-50,50],"range":[-55.6,55.6]}},"y":{"field":"v","type":"quantitative","title":null},"fill":{"condition":{"test":"datum.s==1","value":"#f3c3fb"},"field":"g","type":"nominal","scale":{"domain":["ALS","Control","PD"],"range":["#f7d106","#1fbdf0","#e3292d"]},"legend":null},"stroke":{"condition":{"test":"datum.s==1","value":"#6b5cf0"},"value":"#141414"}}},
{"data":{"name":"sig"},"transform":[{"filter":"datum.k=='R'&&datum.a=='OMD'"}],"mark":{"type":"rule","color":"#a5a5cc","strokeWidth":1.2},"encoding":{"x":{"field":"g1","type":"nominal","title":null},"x2":{"field":"g2"},"y":{"field":"y","type":"quantitative","title":null}}},
{"data":{"name":"sig"},"transform":[{"filter":"datum.k=='R'&&datum.a=='OMD'"}],"mark":{"type":"rule","color":"#a5a5cc","strokeWidth":1.2},"encoding":{"x":{"field":"g1","type":"nominal","title":null},"y":{"field":"y0","type":"quantitative","title":null},"y2":{"field":"y"}}},
{"data":{"name":"sig"},"transform":[{"filter":"datum.k=='R'&&datum.a=='OMD'"}],"mark":{"type":"rule","color":"#a5a5cc","strokeWidth":1.2},"encoding":{"x":{"field":"g2","type":"nominal","title":null},"y":{"field":"y0","type":"quantitative","title":null},"y2":{"field":"y"}}},
{"data":{"name":"sig"},"transform":[{"filter":"datum.k=='R'&&datum.a=='OMD'"}],"mark":{"type":"text","fontSize":26,"color":"#4b4b90","dx":55.6,"dy":7,"align":"center","baseline":"alphabetic"},"encoding":{"x":{"field":"g1","type":"nominal","title":null},"y":{"field":"y","type":"quantitative","title":null},"text":{"field":"lab"}}}]},
{"title":{"text":"GHR","anchor":"start","frame":"group","fontSize":20,"offset":8},"width":356,"height":171,"layer":[
{"data":{"name":"box"},"transform":[{"filter":"datum.k=='R'&&datum.a=='GHR'"}],"mark":{"type":"rule","color":"#2c4a8c","strokeWidth":1.3},"encoding":{"x":{"field":"g","type":"nominal","title":null,"scale":{"type":"point","padding":0.6,"domain":["ALS","Control","PD"]}},"y":{"field":"lo","type":"quantitative","title":null,"scale":{"domain":[2.55,3.65],"nice":false,"zero":false},"axis":{"values":[2.6,2.8,3,3.2,3.4,3.6],"format":".1f","labelOverlap":false,"tickCount":12}},"y2":{"field":"hi"}}},
{"data":{"name":"box"},"transform":[{"filter":"datum.k=='R'&&datum.a=='GHR'"}],"mark":{"type":"bar","width":83,"fill":"#e3e5f7","stroke":"#2c4a8c","strokeWidth":1.3},"encoding":{"x":{"field":"g","type":"nominal","title":null},"y":{"field":"q1","type":"quantitative","title":null},"y2":{"field":"q3"}}},
{"data":{"name":"box"},"transform":[{"filter":"datum.k=='R'&&datum.a=='GHR'"}],"mark":{"type":"tick","size":83,"thickness":2.8,"color":"#2c4a8c","opacity":1},"encoding":{"x":{"field":"g","type":"nominal","title":null},"y":{"field":"md","type":"quantitative","title":null}}},
{"data":{"name":"R_GHR"},"mark":{"type":"circle","size":52,"opacity":1,"strokeWidth":0.8},"encoding":{"x":{"field":"g","type":"nominal","title":null},"xOffset":{"field":"j","type":"quantitative","scale":{"domain":[-50,50],"range":[-55.6,55.6]}},"y":{"field":"v","type":"quantitative","title":null},"fill":{"condition":{"test":"datum.s==1","value":"#f3c3fb"},"field":"g","type":"nominal","scale":{"domain":["ALS","Control","PD"],"range":["#f7d106","#1fbdf0","#e3292d"]},"legend":null},"stroke":{"condition":{"test":"datum.s==1","value":"#6b5cf0"},"value":"#141414"}}},
{"data":{"name":"sig"},"transform":[{"filter":"datum.k=='R'&&datum.a=='GHR'"}],"mark":{"type":"rule","color":"#a5a5cc","strokeWidth":1.2},"encoding":{"x":{"field":"g1","type":"nominal","title":null},"x2":{"field":"g2"},"y":{"field":"y","type":"quantitative","title":null}}},
{"data":{"name":"sig"},"transform":[{"filter":"datum.k=='R'&&datum.a=='GHR'"}],"mark":{"type":"rule","color":"#a5a5cc","strokeWidth":1.2},"encoding":{"x":{"field":"g1","type":"nominal","title":null},"y":{"field":"y0","type":"quantitative","title":null},"y2":{"field":"y"}}},
{"data":{"name":"sig"},"transform":[{"filter":"datum.k=='R'&&datum.a=='GHR'"}],"mark":{"type":"rule","color":"#a5a5cc","strokeWidth":1.2},"encoding":{"x":{"field":"g2","type":"nominal","title":null},"y":{"field":"y0","type":"quantitative","title":null},"y2":{"field":"y"}}},
{"data":{"name":"sig"},"transform":[{"filter":"datum.k=='R'&&datum.a=='GHR'"}],"mark":{"type":"text","fontSize":26,"color":"#4b4b90","dx":55.6,"dy":7,"align":"center","baseline":"alphabetic"},"encoding":{"x":{"field":"g1","type":"nominal","title":null},"y":{"field":"y","type":"quantitative","title":null},"text":{"field":"lab"}}}]},
{"title":{"text":"BSP","anchor":"start","frame":"group","fontSize":20,"offset":8},"width":356,"height":171,"layer":[
{"data":{"name":"box"},"transform":[{"filter":"datum.k=='R'&&datum.a=='BSP'"}],"mark":{"type":"rule","color":"#2c4a8c","strokeWidth":1.3},"encoding":{"x":{"field":"g","type":"nominal","title":null,"scale":{"type":"point","padding":0.6,"domain":["ALS","Control","PD"]}},"y":{"field":"lo","type":"quantitative","title":null,"scale":{"domain":[2.93,4.47],"nice":false,"zero":false},"axis":{"values":[3,3.2,3.4,3.6,3.8,4,4.2,4.4],"format":".1f","labelOverlap":false,"tickCount":12}},"y2":{"field":"hi"}}},
{"data":{"name":"box"},"transform":[{"filter":"datum.k=='R'&&datum.a=='BSP'"}],"mark":{"type":"bar","width":83,"fill":"#e3e5f7","stroke":"#2c4a8c","strokeWidth":1.3},"encoding":{"x":{"field":"g","type":"nominal","title":null},"y":{"field":"q1","type":"quantitative","title":null},"y2":{"field":"q3"}}},
{"data":{"name":"box"},"transform":[{"filter":"datum.k=='R'&&datum.a=='BSP'"}],"mark":{"type":"tick","size":83,"thickness":2.8,"color":"#2c4a8c","opacity":1},"encoding":{"x":{"field":"g","type":"nominal","title":null},"y":{"field":"md","type":"quantitative","title":null}}},
{"data":{"name":"R_BSP"},"mark":{"type":"circle","size":52,"opacity":1,"strokeWidth":0.8},"encoding":{"x":{"field":"g","type":"nominal","title":null},"xOffset":{"field":"j","type":"quantitative","scale":{"domain":[-50,50],"range":[-55.6,55.6]}},"y":{"field":"v","type":"quantitative","title":null},"fill":{"condition":{"test":"datum.s==1","value":"#f3c3fb"},"field":"g","type":"nominal","scale":{"domain":["ALS","Control","PD"],"range":["#f7d106","#1fbdf0","#e3292d"]},"legend":null},"stroke":{"condition":{"test":"datum.s==1","value":"#6b5cf0"},"value":"#141414"}}},
{"data":{"name":"sig"},"transform":[{"filter":"datum.k=='R'&&datum.a=='BSP'"}],"mark":{"type":"rule","color":"#a5a5cc","strokeWidth":1.2},"encoding":{"x":{"field":"g1","type":"nominal","title":null},"x2":{"field":"g2"},"y":{"field":"y","type":"quantitative","title":null}}},
{"data":{"name":"sig"},"transform":[{"filter":"datum.k=='R'&&datum.a=='BSP'"}],"mark":{"type":"rule","color":"#a5a5cc","strokeWidth":1.2},"encoding":{"x":{"field":"g1","type":"nominal","title":null},"y":{"field":"y0","type":"quantitative","title":null},"y2":{"field":"y"}}},
{"data":{"name":"sig"},"transform":[{"filter":"datum.k=='R'&&datum.a=='BSP'"}],"mark":{"type":"rule","color":"#a5a5cc","strokeWidth":1.2},"encoding":{"x":{"field":"g2","type":"nominal","title":null},"y":{"field":"y0","type":"quantitative","title":null},"y2":{"field":"y"}}},
{"data":{"name":"sig"},"transform":[{"filter":"datum.k=='R'&&datum.a=='BSP'"}],"mark":{"type":"text","fontSize":26,"color":"#4b4b90","dx":55.6,"dy":7,"align":"center","baseline":"alphabetic"},"encoding":{"x":{"field":"g1","type":"nominal","title":null},"y":{"field":"y","type":"quantitative","title":null},"text":{"field":"lab"}}}]}
]}
]}]
}
